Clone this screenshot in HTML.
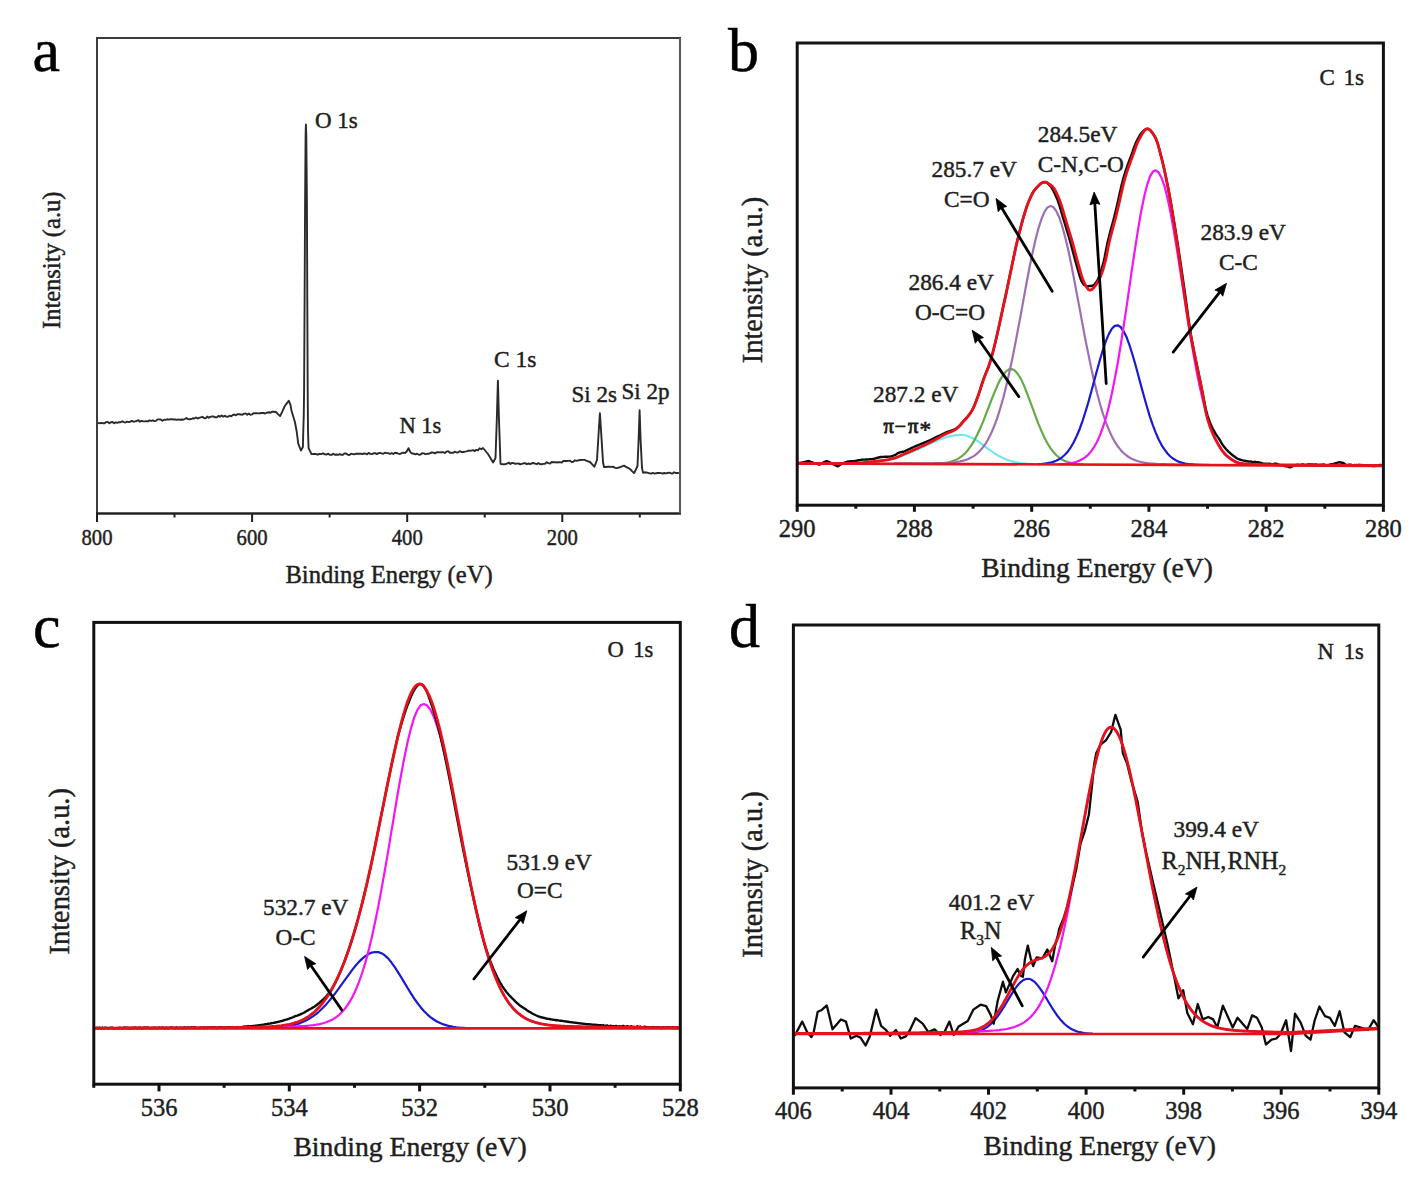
<!DOCTYPE html>
<html><head><meta charset="utf-8"><title>XPS spectra</title>
<style>html,body{margin:0;padding:0;background:#fff;overflow:hidden;}svg{display:block;}text{font-family:"Liberation Serif", serif;stroke:#1e1e1e;stroke-width:0.45px;}</style>
</head><body>
<svg width="1419" height="1179" viewBox="0 0 1419 1179">
<rect width="1419" height="1179" fill="#fff"/>
<line x1="97.0" y1="513.5" x2="97.0" y2="522.0" stroke="#1e1e1e" stroke-width="2"/>
<line x1="252.1" y1="513.5" x2="252.1" y2="522.0" stroke="#1e1e1e" stroke-width="2"/>
<line x1="407.2" y1="513.5" x2="407.2" y2="522.0" stroke="#1e1e1e" stroke-width="2"/>
<line x1="562.3" y1="513.5" x2="562.3" y2="522.0" stroke="#1e1e1e" stroke-width="2"/>
<line x1="174.5" y1="513.5" x2="174.5" y2="517.5" stroke="#1e1e1e" stroke-width="2"/>
<line x1="329.6" y1="513.5" x2="329.6" y2="517.5" stroke="#1e1e1e" stroke-width="2"/>
<line x1="484.7" y1="513.5" x2="484.7" y2="517.5" stroke="#1e1e1e" stroke-width="2"/>
<line x1="639.8" y1="513.5" x2="639.8" y2="517.5" stroke="#1e1e1e" stroke-width="2"/>
<text x="0" y="0" font-size="22.5" text-anchor="middle" fill="#1e1e1e" transform="translate(97.0,545) scale(0.92,1)">800</text>
<text x="0" y="0" font-size="22.5" text-anchor="middle" fill="#1e1e1e" transform="translate(252.1,545) scale(0.92,1)">600</text>
<text x="0" y="0" font-size="22.5" text-anchor="middle" fill="#1e1e1e" transform="translate(407.2,545) scale(0.92,1)">400</text>
<text x="0" y="0" font-size="22.5" text-anchor="middle" fill="#1e1e1e" transform="translate(562.3,545) scale(0.92,1)">200</text>
<text x="389" y="583" font-size="24.6" text-anchor="middle" fill="#1e1e1e" >Binding Energy (eV)</text>
<text x="0" y="0" font-size="24.5" text-anchor="middle" fill="#1e1e1e" transform="translate(60.3,260.3) rotate(-90)">Intensity (a.u)</text>
<text x="32.5" y="70.5" font-size="62" text-anchor="start" fill="#000" style="stroke:#000;stroke-width:0.5px">a</text>
<text x="315" y="127.5" font-size="23" text-anchor="start" fill="#1e1e1e" >O 1s</text>
<text x="494" y="367.3" font-size="23.5" text-anchor="start" fill="#1e1e1e" >C 1s</text>
<text x="399.5" y="433" font-size="22.5" text-anchor="start" fill="#1e1e1e" >N 1s</text>
<text x="571.5" y="401.5" font-size="23" text-anchor="start" fill="#1e1e1e" >Si 2s</text>
<text x="621.5" y="399.1" font-size="23" text-anchor="start" fill="#1e1e1e" >Si 2p</text>
<path d="M98.0,422.8 L99.6,423.3 L101.2,422.9 L102.8,423.2 L104.5,423.2 L106.1,422.1 L107.7,421.9 L109.3,423.3 L110.9,422.2 L112.5,422.0 L114.2,423.3 L115.8,422.3 L117.4,422.8 L119.0,422.1 L120.6,422.3 L122.2,421.3 L123.8,422.1 L125.5,422.5 L127.1,421.7 L128.7,422.1 L130.3,421.8 L131.9,420.7 L133.5,421.8 L135.2,421.4 L136.8,420.8 L138.4,420.2 L140.0,421.7 L141.6,420.9 L143.2,421.2 L144.8,421.4 L146.4,421.1 L148.0,421.4 L149.6,420.3 L151.2,421.0 L152.8,420.3 L154.4,421.1 L156.0,420.9 L157.6,419.4 L159.2,419.4 L160.8,419.5 L162.4,420.7 L164.0,419.7 L165.6,419.9 L167.2,419.3 L168.8,419.6 L170.4,419.3 L172.0,419.1 L173.6,419.5 L175.2,419.4 L176.8,419.9 L178.4,419.4 L180.0,419.8 L181.6,419.5 L183.2,419.7 L184.8,419.0 L186.4,418.0 L188.0,419.1 L189.6,419.2 L191.2,419.0 L192.8,418.3 L194.4,418.5 L196.0,417.5 L197.6,418.5 L199.2,417.9 L200.8,417.3 L202.4,416.8 L204.0,418.1 L205.6,418.3 L207.2,416.6 L208.8,417.7 L210.4,416.9 L212.0,416.4 L213.6,416.5 L215.2,417.3 L216.8,417.4 L218.4,415.8 L220.0,416.7 L221.6,415.5 L223.2,416.6 L224.8,415.8 L226.4,416.6 L228.0,416.7 L229.6,415.7 L231.2,416.4 L232.8,415.0 L234.4,414.5 L236.0,415.3 L237.6,414.1 L239.2,414.3 L240.8,414.5 L242.4,414.7 L244.0,413.8 L245.6,413.4 L247.2,414.8 L248.8,413.6 L250.4,414.7 L252.0,414.4 L253.6,413.3 L255.2,413.3 L256.8,413.3 L258.4,413.4 L260.0,413.2 L261.8,413.0 L263.5,413.0 L265.3,413.5 L267.1,412.6 L268.8,412.3 L270.6,412.7 L272.4,411.7 L274.1,411.8 L275.9,412.0 L278.0,414.1 L280.1,416.1 L282.5,411.1 L284.8,406.0 L286.8,403.4 L288.7,400.7 L290.5,404.8 L291.4,410.2 L293.1,416.1 L294.9,422.0 L296.7,431.5 L298.2,443.4 L300.9,450.5 L302.9,447.0 L303.2,434.5 L303.8,413.7 L304.1,390.0 L304.6,300.0 L305.1,200.0 L305.6,135.0 L305.9,124.5 L306.3,135.0 L306.9,200.0 L307.3,300.0 L307.7,390.0 L308.0,431.5 L308.6,448.2 L311.5,454.1 L313.5,454.0 L315.5,453.9 L317.5,454.7 L319.3,454.0 L321.1,454.1 L322.9,453.3 L324.6,454.2 L326.4,454.6 L328.2,453.7 L330.0,454.9 L331.6,454.9 L333.2,453.8 L334.8,454.8 L336.5,454.5 L338.1,454.8 L339.7,454.2 L341.3,454.8 L342.9,454.8 L344.5,453.5 L346.1,453.5 L347.7,454.6 L349.4,455.1 L351.0,453.7 L352.6,454.1 L354.2,454.3 L355.8,453.8 L357.4,453.8 L359.0,453.7 L360.6,453.7 L362.3,454.1 L363.9,453.5 L365.5,453.6 L367.1,454.3 L368.7,452.9 L370.3,453.9 L371.9,454.1 L373.5,453.3 L375.2,453.1 L376.8,454.1 L378.4,453.1 L380.0,452.9 L381.7,453.4 L383.3,453.8 L385.0,452.7 L386.7,453.1 L388.3,453.1 L390.0,454.0 L391.7,453.2 L393.3,454.0 L395.0,452.7 L396.7,453.0 L398.3,453.6 L400.0,454.0 L401.7,453.2 L403.3,452.7 L405.0,453.2 L407.0,451.0 L408.5,448.2 L410.0,451.5 L411.5,453.3 L414.0,453.8 L415.6,454.4 L417.2,453.7 L418.9,454.7 L420.5,454.6 L422.1,453.3 L423.8,453.4 L425.4,454.2 L427.0,453.8 L428.6,453.9 L430.2,453.0 L431.9,452.5 L433.5,452.6 L435.1,453.4 L436.8,452.3 L438.4,452.3 L440.0,452.4 L441.6,452.3 L443.3,452.2 L444.9,453.0 L446.6,451.6 L448.2,451.2 L449.9,452.8 L451.5,452.7 L453.2,452.8 L454.8,451.7 L456.5,452.5 L458.1,452.4 L459.8,451.1 L461.4,452.0 L463.1,452.0 L464.7,451.7 L466.4,451.3 L468.0,450.8 L469.7,450.8 L471.3,450.6 L473.0,450.2 L474.6,451.1 L476.3,449.9 L478.0,450.3 L479.6,448.3 L481.3,449.3 L483.0,448.0 L484.7,450.0 L486.3,452.0 L488.0,454.0 L489.7,456.8 L491.4,459.7 L493.1,462.5 L495.5,458.0 L496.8,420.0 L497.9,380.6 L499.0,420.0 L500.5,463.8 L502.1,464.3 L503.8,464.2 L505.4,464.2 L507.1,463.7 L508.7,462.6 L510.4,464.0 L512.0,462.9 L513.7,463.2 L515.3,463.8 L517.0,463.6 L518.6,463.4 L520.2,464.3 L521.9,463.8 L523.5,463.3 L525.2,463.1 L526.8,464.2 L528.5,463.5 L530.1,464.1 L531.8,463.3 L533.4,463.0 L535.1,463.6 L536.7,464.2 L538.4,463.0 L540.0,464.1 L541.7,464.2 L543.3,463.9 L545.0,463.8 L546.7,462.2 L548.3,463.2 L550.0,463.6 L551.7,462.0 L553.3,462.3 L555.0,462.1 L556.7,462.5 L558.3,462.2 L560.0,462.2 L561.7,462.6 L563.3,461.0 L565.0,461.0 L566.7,461.0 L568.3,460.9 L570.0,460.6 L571.7,462.1 L573.3,461.8 L575.0,460.3 L576.9,460.8 L578.8,460.2 L580.6,460.0 L582.5,459.9 L584.4,459.9 L586.3,460.6 L588.1,461.3 L590.0,462.0 L592.2,464.4 L594.4,466.7 L597.0,460.0 L598.8,430.0 L599.9,413.3 L601.0,430.0 L603.0,462.0 L604.0,467.0 L605.8,467.0 L607.5,466.7 L609.3,466.6 L611.1,466.9 L612.9,466.7 L614.7,467.6 L616.4,468.1 L618.2,467.8 L620.1,467.1 L622.1,466.4 L624.0,465.7 L626.0,466.8 L628.0,467.9 L630.0,469.0 L632.0,471.1 L634.1,473.1 L635.8,469.6 L637.5,466.0 L638.6,440.0 L639.6,410.2 L640.6,440.0 L642.0,468.0 L643.1,472.9 L644.7,472.3 L646.4,472.5 L648.0,472.9 L649.6,473.3 L651.3,473.6 L652.9,472.9 L654.5,473.6 L656.2,473.3 L657.8,473.0 L659.4,472.9 L661.0,473.1 L662.7,473.5 L664.3,473.0 L665.9,473.4 L667.6,473.0 L669.2,472.6 L670.8,473.2 L672.5,473.5 L674.1,472.3 L675.7,473.0 L677.4,473.0 L679.0,473.1" fill="none" stroke="#2a2a2a" stroke-width="1.9" stroke-linejoin="round" stroke-linecap="round" />
<rect x="97" y="38" width="583.0" height="475.5" fill="none" stroke="#3c3c3c" stroke-width="2"/>
<line x1="96.0" y1="513.5" x2="681.0" y2="513.5" stroke="#1e1e1e" stroke-width="2"/>
<line x1="680" y1="38" x2="680" y2="513.5" stroke="#5a5a5a" stroke-width="2"/>
<line x1="797.2" y1="505.2" x2="797.2" y2="511.8" stroke="#111" stroke-width="3"/>
<line x1="914.4" y1="505.2" x2="914.4" y2="511.8" stroke="#111" stroke-width="3"/>
<line x1="1031.7" y1="505.2" x2="1031.7" y2="511.8" stroke="#111" stroke-width="3"/>
<line x1="1148.9" y1="505.2" x2="1148.9" y2="511.8" stroke="#111" stroke-width="3"/>
<line x1="1266.2" y1="505.2" x2="1266.2" y2="511.8" stroke="#111" stroke-width="3"/>
<line x1="1383.4" y1="505.2" x2="1383.4" y2="511.8" stroke="#111" stroke-width="3"/>
<line x1="855.8" y1="505.2" x2="855.8" y2="508.7" stroke="#111" stroke-width="3"/>
<line x1="973.1" y1="505.2" x2="973.1" y2="508.7" stroke="#111" stroke-width="3"/>
<line x1="1090.3" y1="505.2" x2="1090.3" y2="508.7" stroke="#111" stroke-width="3"/>
<line x1="1207.5" y1="505.2" x2="1207.5" y2="508.7" stroke="#111" stroke-width="3"/>
<line x1="1324.8" y1="505.2" x2="1324.8" y2="508.7" stroke="#111" stroke-width="3"/>
<text x="797.2" y="536.8" font-size="24.5" text-anchor="middle" fill="#1e1e1e" >290</text>
<text x="914.4" y="536.8" font-size="24.5" text-anchor="middle" fill="#1e1e1e" >288</text>
<text x="1031.7" y="536.8" font-size="24.5" text-anchor="middle" fill="#1e1e1e" >286</text>
<text x="1148.9" y="536.8" font-size="24.5" text-anchor="middle" fill="#1e1e1e" >284</text>
<text x="1266.2" y="536.8" font-size="24.5" text-anchor="middle" fill="#1e1e1e" >282</text>
<text x="1383.4" y="536.8" font-size="24.5" text-anchor="middle" fill="#1e1e1e" >280</text>
<text x="1097" y="577.3" font-size="27.5" text-anchor="middle" fill="#1e1e1e" >Binding Energy (eV)</text>
<text x="0" y="0" font-size="28.4" text-anchor="middle" fill="#1e1e1e" transform="translate(762.3,280) rotate(-90)">Intensity (a.u.)</text>
<text x="728" y="70.7" font-size="62" text-anchor="start" fill="#000" style="stroke:#000;stroke-width:0.5px">b</text>
<path d="M851.0,463.2 L853.9,463.2 L856.8,463.1 L859.8,463.0 L862.7,462.8 L865.6,462.6 L868.5,462.4 L871.5,462.2 L874.4,461.9 L877.3,461.5 L880.3,461.1 L883.2,460.7 L886.1,460.1 L889.1,459.5 L892.0,458.9 L894.9,458.1 L897.9,457.3 L900.8,456.3 L903.7,455.3 L906.6,454.2 L909.6,453.1 L912.5,451.8 L915.4,450.5 L918.4,449.2 L921.3,447.8 L924.2,446.4 L927.2,445.1 L930.1,443.7 L933.0,442.3 L936.0,441.0 L938.9,439.8 L941.8,438.7 L944.8,437.7 L947.7,436.8 L950.6,436.1 L953.5,435.6 L956.5,435.2 L959.4,435.0 L962.3,435.0 L965.3,435.3 L968.2,436.2 L971.1,437.4 L974.1,438.9 L977.0,440.7 L979.9,442.7 L982.9,444.9 L985.8,447.1 L988.7,449.3 L991.6,451.4 L994.6,453.4 L997.5,455.2 L1000.4,456.8 L1003.4,458.2 L1006.3,459.5 L1009.2,460.5 L1012.2,461.4 L1015.1,462.1 L1018.0,462.7 L1021.0,463.1 L1023.9,463.4 L1026.8,463.7 L1029.7,463.9 L1032.7,464.1" fill="none" stroke="#72e8ee" stroke-width="2.2" stroke-linejoin="round" stroke-linecap="round" />
<path d="M936.0,463.6 L938.9,463.5 L941.8,463.3 L944.8,462.9 L947.7,462.5 L950.6,461.8 L953.5,460.9 L956.5,459.6 L959.4,457.9 L962.3,455.8 L965.3,453.1 L968.2,449.7 L971.1,445.6 L974.1,440.8 L977.0,435.3 L979.9,429.0 L982.9,422.1 L985.8,414.7 L988.7,407.1 L991.6,399.5 L994.6,392.1 L997.5,385.2 L1000.4,379.3 L1003.4,374.5 L1006.3,371.1 L1009.2,369.3 L1012.2,369.1 L1015.1,370.8 L1018.0,374.2 L1021.0,379.1 L1023.9,385.4 L1026.8,392.6 L1029.7,400.4 L1032.7,408.4 L1035.6,416.4 L1038.5,424.1 L1041.5,431.1 L1044.4,437.5 L1047.3,443.1 L1050.3,447.8 L1053.2,451.8 L1056.1,455.0 L1059.1,457.5 L1062.0,459.5 L1064.9,461.0 L1067.9,462.1 L1070.8,462.9 L1073.7,463.4 L1076.6,463.8 L1079.6,464.1 L1082.5,464.3" fill="none" stroke="#66aa48" stroke-width="2.2" stroke-linejoin="round" stroke-linecap="round" />
<path d="M894.9,463.4 L897.9,463.4 L900.8,463.4 L903.7,463.4 L906.6,463.4 L909.6,463.4 L912.5,463.4 L915.4,463.4 L918.4,463.4 L921.3,463.4 L924.2,463.3 L927.2,463.3 L930.1,463.3 L933.0,463.3 L936.0,463.2 L938.9,463.2 L941.8,463.1 L944.8,463.0 L947.7,462.8 L950.6,462.6 L953.5,462.4 L956.5,462.0 L959.4,461.5 L962.3,460.9 L965.3,460.1 L968.2,459.0 L971.1,457.6 L974.1,455.9 L977.0,453.6 L979.9,450.9 L982.9,447.4 L985.8,443.3 L988.7,438.3 L991.6,432.3 L994.6,425.3 L997.5,417.2 L1000.4,407.9 L1003.4,397.5 L1006.3,385.8 L1009.2,373.1 L1012.2,359.3 L1015.1,344.6 L1018.0,329.2 L1021.0,313.4 L1023.9,297.5 L1026.8,281.7 L1029.7,266.5 L1032.7,252.3 L1035.6,239.3 L1038.5,228.1 L1041.5,218.9 L1044.4,212.0 L1047.3,207.6 L1050.3,206.0 L1053.2,207.0 L1056.1,210.7 L1059.1,216.9 L1062.0,225.5 L1064.9,236.1 L1067.9,248.5 L1070.8,262.3 L1073.7,277.1 L1076.6,292.6 L1079.6,308.4 L1082.5,324.1 L1085.4,339.6 L1088.4,354.4 L1091.3,368.4 L1094.2,381.5 L1097.2,393.5 L1100.1,404.3 L1103.0,414.0 L1106.0,422.5 L1108.9,429.9 L1111.8,436.3 L1114.7,441.7 L1117.7,446.2 L1120.6,449.9 L1123.5,453.0 L1126.5,455.5 L1129.4,457.5 L1132.3,459.1 L1135.3,460.3 L1138.2,461.3 L1141.1,462.0 L1144.1,462.6 L1147.0,463.1 L1149.9,463.4 L1152.9,463.6 L1155.8,463.8 L1158.7,464.0 L1161.6,464.1 L1164.6,464.2 L1167.5,464.3 L1170.4,464.4 L1173.4,464.4 L1176.3,464.5 L1179.2,464.5 L1182.2,464.5 L1185.1,464.6 L1188.0,464.6 L1191.0,464.6 L1193.9,464.7 L1196.8,464.7 L1199.7,464.7 L1202.7,464.8 L1205.6,464.8 L1208.5,464.8" fill="none" stroke="#9d6fb2" stroke-width="2.2" stroke-linejoin="round" stroke-linecap="round" />
<path d="M1038.5,464.1 L1041.5,463.9 L1044.4,463.6 L1047.3,463.2 L1050.3,462.7 L1053.2,461.9 L1056.1,460.8 L1059.1,459.3 L1062.0,457.3 L1064.9,454.7 L1067.9,451.4 L1070.8,447.3 L1073.7,442.3 L1076.6,436.2 L1079.6,429.2 L1082.5,421.1 L1085.4,412.0 L1088.4,402.1 L1091.3,391.5 L1094.2,380.7 L1097.2,369.8 L1100.1,359.2 L1103.0,349.5 L1106.0,340.9 L1108.9,333.9 L1111.8,328.8 L1114.7,325.9 L1117.7,325.3 L1120.6,327.0 L1123.5,331.0 L1126.5,337.0 L1129.4,344.8 L1132.3,354.0 L1135.3,364.2 L1138.2,375.0 L1141.1,385.9 L1144.1,396.7 L1147.0,407.0 L1149.9,416.6 L1152.9,425.3 L1155.8,432.9 L1158.7,439.5 L1161.6,445.1 L1164.6,449.7 L1167.5,453.5 L1170.4,456.5 L1173.4,458.8 L1176.3,460.5 L1179.2,461.9 L1182.2,462.8 L1185.1,463.6 L1188.0,464.1 L1191.0,464.4 L1193.9,464.7 L1196.8,464.8" fill="none" stroke="#1a1ad2" stroke-width="2.2" stroke-linejoin="round" stroke-linecap="round" />
<path d="M1059.1,464.2 L1062.0,464.1 L1064.9,463.9 L1067.9,463.6 L1070.8,463.2 L1073.7,462.6 L1076.6,461.7 L1079.6,460.6 L1082.5,459.1 L1085.4,457.1 L1088.4,454.5 L1091.3,451.1 L1094.2,446.8 L1097.2,441.5 L1100.1,434.9 L1103.0,427.0 L1106.0,417.5 L1108.9,406.5 L1111.8,393.7 L1114.7,379.3 L1117.7,363.3 L1120.6,345.7 L1123.5,327.0 L1126.5,307.3 L1129.4,287.1 L1132.3,266.9 L1135.3,247.2 L1138.2,228.6 L1141.1,211.7 L1144.1,197.1 L1147.0,185.3 L1149.9,176.6 L1152.9,171.6 L1155.8,170.3 L1158.7,172.5 L1161.6,178.0 L1164.6,186.6 L1167.5,198.1 L1170.4,212.0 L1173.4,228.0 L1176.3,245.5 L1179.2,264.0 L1182.2,283.1 L1185.1,302.2 L1188.0,321.1 L1191.0,339.2 L1193.9,356.3 L1196.8,372.1 L1199.7,386.6 L1202.7,399.5 L1205.6,411.0 L1208.5,421.0 L1211.5,429.5 L1214.4,436.8 L1217.3,442.8 L1220.3,447.8 L1223.2,451.8 L1226.1,455.0 L1229.1,457.5 L1232.0,459.5 L1234.9,461.1 L1237.9,462.2 L1240.8,463.1 L1243.7,463.7 L1246.6,464.2 L1249.6,464.6 L1252.5,464.8 L1255.4,465.0 L1258.4,465.1" fill="none" stroke="#f414f4" stroke-width="2.2" stroke-linejoin="round" stroke-linecap="round" />
<path d="M798.7,463.0 L799.7,462.9 L800.7,462.8 L801.7,462.7 L802.7,462.5 L803.7,462.3 L804.7,462.0 L805.7,461.8 L806.7,461.5 L807.7,461.2 L808.7,461.0 L809.7,461.4 L810.7,461.8 L811.7,462.1 L812.7,462.5 L813.7,462.9 L814.7,463.2 L815.7,463.5 L816.7,463.8 L817.7,464.1 L818.7,464.5 L819.7,464.6 L820.7,463.9 L821.7,463.3 L822.7,462.7 L823.7,462.2 L824.7,461.8 L825.7,461.4 L826.7,461.0 L827.7,461.4 L828.7,461.9 L829.7,462.4 L830.7,462.9 L831.7,463.4 L832.7,463.9 L833.7,464.4 L834.7,465.0 L835.7,465.5 L836.7,466.0 L837.7,466.4 L838.7,465.8 L839.7,465.1 L840.7,464.4 L841.7,463.7 L842.7,463.3 L843.7,462.9 L844.7,462.6 L845.7,462.2 L846.7,461.9 L847.7,461.5 L848.7,461.4 L849.7,461.4 L850.7,461.3 L851.7,461.2 L852.7,461.2 L853.7,461.1 L854.7,461.0 L855.7,460.9 L856.7,460.7 L857.7,460.5 L858.7,460.3 L859.7,460.1 L860.7,459.9 L861.7,459.7 L862.7,459.6 L863.7,459.6 L864.7,459.6 L865.7,459.5 L866.7,459.5 L867.7,459.5 L868.7,459.4 L869.7,459.3 L870.7,459.2 L871.7,459.1 L872.7,459.0 L873.7,458.9 L874.7,458.6 L875.7,458.3 L876.7,458.0 L877.7,457.8 L878.7,457.5 L879.7,457.2 L880.7,457.0 L881.7,457.0 L882.7,456.9 L883.7,456.9 L884.7,456.8 L885.7,456.8 L886.7,456.8 L887.7,456.7 L888.7,456.6 L889.7,456.6 L890.7,456.5 L891.7,456.3 L892.7,455.9 L893.7,455.5 L894.7,455.1 L895.7,454.6 L896.7,454.0 L897.7,453.3 L898.7,452.8 L899.7,452.5 L900.7,452.2 L901.7,452.0 L902.7,451.7 L903.7,451.7 L904.7,451.2 L905.7,450.7 L906.7,450.2 L907.7,449.7 L908.7,449.3 L909.7,448.8 L910.7,448.4 L911.7,447.9 L912.7,447.4 L913.7,447.0 L914.7,446.5 L915.7,446.1 L916.7,445.7 L917.7,445.3 L918.7,444.9 L919.7,444.5 L920.7,444.1 L921.7,443.7 L922.7,443.3 L923.7,442.9 L924.7,442.4 L925.7,442.0 L926.7,441.6 L927.7,441.2 L928.7,440.7 L929.7,440.3 L930.7,439.8 L931.7,439.4 L932.7,438.9 L933.7,438.4 L934.7,437.9 L935.7,437.4 L936.7,436.9 L937.7,436.4 L938.7,435.9 L939.7,435.5 L940.7,435.0 L941.7,434.5 L942.7,434.0 L943.7,433.5 L944.7,433.1 L945.7,432.6 L946.7,432.2 L947.7,431.8 L948.7,431.4 L949.7,431.1 L950.7,430.8 L951.7,430.5 L952.7,430.1 L953.7,429.7 L954.7,429.3 L955.7,428.7 L956.7,428.0 L957.7,427.2 L958.7,426.3 L959.7,425.3 L960.7,424.2 L961.7,423.1 L962.7,422.0 L963.7,420.9 L964.7,419.8 L965.7,418.7 L966.7,417.6 L967.7,416.4 L968.7,415.2 L969.7,413.9 L970.7,412.5 L971.7,410.9 L972.7,409.2 L973.7,407.1 L974.7,404.7 L975.7,402.2 L976.7,399.6 L977.7,396.9 L978.7,394.1 L979.7,391.1 L980.7,387.9 L981.7,384.8 L982.7,381.7 L983.7,378.9 L984.7,376.3 L985.7,373.8 L986.7,371.3 L987.7,368.8 L988.7,366.2 L989.7,363.2 L990.7,360.0 L991.7,356.6 L992.7,352.9 L993.7,349.0 L994.7,345.0 L995.7,340.8 L996.7,336.5 L997.7,332.0 L998.7,327.5 L999.7,322.9 L1000.7,318.3 L1001.7,313.7 L1002.7,309.1 L1003.7,304.5 L1004.7,299.9 L1005.7,295.4 L1006.7,290.7 L1007.7,285.9 L1008.7,281.1 L1009.7,276.3 L1010.7,271.5 L1011.7,266.7 L1012.7,262.0 L1013.7,257.3 L1014.7,252.5 L1015.7,247.8 L1016.7,243.4 L1017.7,239.3 L1018.7,235.2 L1019.7,231.3 L1020.7,227.4 L1021.7,223.6 L1022.7,219.9 L1023.7,216.3 L1024.7,213.0 L1025.7,209.8 L1026.7,206.8 L1027.7,204.1 L1028.7,201.6 L1029.7,199.2 L1030.7,196.9 L1031.7,194.8 L1032.7,192.9 L1033.7,191.2 L1034.7,189.9 L1035.7,188.7 L1036.7,187.6 L1037.7,186.5 L1038.7,185.5 L1039.7,184.5 L1040.7,183.7 L1041.7,183.0 L1042.7,182.5 L1043.7,182.2 L1044.7,182.1 L1045.7,182.3 L1046.7,182.7 L1047.7,183.4 L1048.7,184.3 L1049.7,185.3 L1050.7,186.4 L1051.7,187.9 L1052.7,189.5 L1053.7,191.4 L1054.7,193.5 L1055.7,195.7 L1056.7,198.0 L1057.7,200.4 L1058.7,203.3 L1059.7,206.4 L1060.7,209.7 L1061.7,213.2 L1062.7,216.6 L1063.7,219.9 L1064.7,223.2 L1065.7,226.5 L1066.7,229.8 L1067.7,233.1 L1068.7,236.5 L1069.7,240.0 L1070.7,243.5 L1071.7,247.1 L1072.7,250.9 L1073.7,254.7 L1074.7,258.4 L1075.7,262.1 L1076.7,265.7 L1077.7,269.2 L1078.7,272.8 L1079.7,276.2 L1080.7,279.1 L1081.7,281.4 L1082.7,283.1 L1083.7,284.5 L1084.7,285.3 L1085.7,285.8 L1086.7,286.2 L1087.7,286.3 L1088.7,286.2 L1089.7,285.9 L1090.7,286.0 L1091.7,286.0 L1092.7,285.6 L1093.7,285.0 L1094.7,284.0 L1095.7,282.9 L1096.7,281.6 L1097.7,279.9 L1098.7,277.6 L1099.7,274.7 L1100.7,271.7 L1101.7,268.6 L1102.7,265.1 L1103.7,261.5 L1104.7,257.0 L1105.7,251.7 L1106.7,246.4 L1107.7,241.8 L1108.7,237.7 L1109.7,233.8 L1110.7,230.1 L1111.7,226.4 L1112.7,222.7 L1113.7,219.0 L1114.7,215.1 L1115.7,211.0 L1116.7,206.7 L1117.7,202.3 L1118.7,197.8 L1119.7,193.3 L1120.7,188.9 L1121.7,184.7 L1122.7,180.8 L1123.7,177.1 L1124.7,173.8 L1125.7,170.7 L1126.7,167.8 L1127.7,165.0 L1128.7,162.2 L1129.7,159.5 L1130.7,156.9 L1131.7,154.2 L1132.7,151.3 L1133.7,148.5 L1134.7,145.7 L1135.7,143.1 L1136.7,141.0 L1137.7,139.1 L1138.7,137.3 L1139.7,135.5 L1140.7,134.0 L1141.7,132.8 L1142.7,131.6 L1143.7,130.7 L1144.7,129.8 L1145.7,129.3 L1146.7,128.9 L1147.7,128.8 L1148.7,129.1 L1149.7,129.8 L1150.7,130.7 L1151.7,131.9 L1152.7,133.3 L1153.7,134.8 L1154.7,136.4 L1155.7,138.2 L1156.7,140.7 L1157.7,143.7 L1158.7,147.1 L1159.7,150.9 L1160.7,154.8 L1161.7,158.7 L1162.7,162.7 L1163.7,167.0 L1164.7,171.5 L1165.7,176.1 L1166.7,180.9 L1167.7,185.8 L1168.7,190.8 L1169.7,196.0 L1170.7,201.5 L1171.7,207.2 L1172.7,213.1 L1173.7,219.1 L1174.7,225.2 L1175.7,231.4 L1176.7,237.7 L1177.7,243.9 L1178.7,250.4 L1179.7,257.0 L1180.7,263.7 L1181.7,270.6 L1182.7,277.5 L1183.7,284.3 L1184.7,291.1 L1185.7,298.3 L1186.7,305.7 L1187.7,313.2 L1188.7,320.4 L1189.7,327.2 L1190.7,333.4 L1191.7,339.1 L1192.7,344.5 L1193.7,349.7 L1194.7,354.9 L1195.7,359.7 L1196.7,364.4 L1197.7,369.1 L1198.7,373.8 L1199.7,378.5 L1200.7,383.2 L1201.7,387.9 L1202.7,393.0 L1203.7,398.2 L1204.7,403.5 L1205.7,408.4 L1206.7,412.7 L1207.7,416.1 L1208.7,419.0 L1209.7,421.7 L1210.7,424.2 L1211.7,426.5 L1212.7,428.5 L1213.7,430.4 L1214.7,432.2 L1215.7,433.9 L1216.7,435.4 L1217.7,436.9 L1218.7,438.3 L1219.7,439.9 L1220.7,441.7 L1221.7,443.3 L1222.7,444.9 L1223.7,446.3 L1224.7,447.6 L1225.7,448.8 L1226.7,449.9 L1227.7,450.8 L1228.7,451.8 L1229.7,452.7 L1230.7,453.6 L1231.7,454.5 L1232.7,455.3 L1233.7,456.1 L1234.7,456.8 L1235.7,457.5 L1236.7,458.2 L1237.7,458.7 L1238.7,459.2 L1239.7,459.5 L1240.7,459.8 L1241.7,460.1 L1242.7,460.4 L1243.7,460.6 L1244.7,460.8 L1245.7,461.0 L1246.7,461.2 L1247.7,461.3 L1248.7,461.5 L1249.7,461.6 L1250.7,461.4 L1251.7,462.0 L1252.7,462.0 L1253.7,462.1 L1254.7,461.8 L1255.7,462.0 L1256.7,462.1 L1257.7,462.2 L1258.7,462.5 L1259.7,462.5 L1260.7,463.0 L1261.7,463.0 L1262.7,463.6 L1263.7,463.6 L1264.7,463.9 L1265.7,463.7 L1266.7,463.9 L1267.7,463.7 L1268.7,463.9 L1269.7,463.6 L1270.7,464.0 L1271.7,464.2 L1272.7,464.2 L1273.7,464.0 L1274.7,463.7 L1275.7,463.8 L1276.7,463.8 L1277.7,464.2 L1278.7,464.7 L1279.7,465.0 L1280.7,465.1 L1281.7,465.0 L1282.7,465.1 L1283.7,465.6 L1284.7,466.1 L1285.7,466.3 L1286.7,466.3 L1287.7,466.5 L1288.7,467.0 L1289.7,467.2 L1290.7,467.0 L1291.7,466.8 L1292.7,466.1 L1293.7,465.6 L1294.7,465.2 L1295.7,465.2 L1296.7,465.0 L1297.7,464.8 L1298.7,465.0 L1299.7,465.3 L1300.7,465.1 L1301.7,464.6 L1302.7,464.3 L1303.7,464.7 L1304.7,464.9 L1305.7,465.4 L1306.7,464.9 L1307.7,464.8 L1308.7,464.3 L1309.7,464.5 L1310.7,464.4 L1311.7,464.5 L1312.7,464.5 L1313.7,464.7 L1314.7,464.6 L1315.7,464.4 L1316.7,464.8 L1317.7,464.9 L1318.7,465.1 L1319.7,464.8 L1320.7,465.0 L1321.7,464.8 L1322.7,464.7 L1323.7,464.5 L1324.7,464.8 L1325.7,465.1 L1326.7,465.4 L1327.7,465.6 L1328.7,465.1 L1329.7,464.7 L1330.7,464.4 L1331.7,464.3 L1332.7,464.4 L1333.7,463.9 L1334.7,463.5 L1335.7,463.2 L1336.7,463.1 L1337.7,462.6 L1338.7,462.3 L1339.7,462.3 L1340.7,462.5 L1341.7,462.7 L1342.7,462.8 L1343.7,463.2 L1344.7,464.0 L1345.7,464.6 L1346.7,465.1 L1347.7,464.9 L1348.7,464.6 L1349.7,464.6 L1350.7,464.6 L1351.7,464.9 L1352.7,465.1 L1353.7,465.2 L1354.7,465.0 L1355.7,465.1 L1356.7,465.0 L1357.7,465.1 L1358.7,464.8 L1359.7,465.0 L1360.7,465.0 L1361.7,465.1 L1362.7,465.0 L1363.7,465.4 L1364.7,465.5 L1365.7,465.9 L1366.7,465.8 L1367.7,465.9 L1368.7,465.8 L1369.7,465.7 L1370.7,465.7 L1371.7,465.7 L1372.7,466.1 L1373.7,466.0 L1374.7,466.1 L1375.7,465.7 L1376.7,465.7 L1377.7,465.5 L1378.7,465.5 L1379.7,465.0 L1380.7,464.9 L1381.7,465.1" fill="none" stroke="#0d0d0d" stroke-width="2.4" stroke-linejoin="round" stroke-linecap="round" />
<path d="M798.7,463.4 L799.7,463.4 L800.7,463.4 L801.7,463.4 L802.7,463.5 L803.7,463.5 L804.7,463.5 L805.7,463.5 L806.7,463.5 L807.7,463.5 L808.7,463.5 L809.7,463.5 L810.7,463.5 L811.7,463.6 L812.7,463.6 L813.7,463.6 L814.7,463.6 L815.7,463.6 L816.7,463.6 L817.7,463.6 L818.7,463.6 L819.7,463.6 L820.7,463.6 L821.7,463.6 L822.7,463.6 L823.7,463.6 L824.7,463.6 L825.7,463.6 L826.7,463.6 L827.7,463.6 L828.7,463.6 L829.7,463.6 L830.7,463.6 L831.7,463.6 L832.7,463.6 L833.7,463.6 L834.7,463.6 L835.7,463.6 L836.7,463.6 L837.7,463.6 L838.7,463.5 L839.7,463.5 L840.7,463.5 L841.7,463.5 L842.7,463.5 L843.7,463.5 L844.7,463.4 L845.7,463.4 L846.7,463.4 L847.7,463.4 L848.7,463.4 L849.7,463.3 L850.7,463.3 L851.7,463.3 L852.7,463.3 L853.7,463.2 L854.7,463.2 L855.7,463.2 L856.7,463.1 L857.7,463.1 L858.7,463.0 L859.7,463.0 L860.7,462.9 L861.7,462.8 L862.7,462.7 L863.7,462.6 L864.7,462.5 L865.7,462.4 L866.7,462.3 L867.7,462.2 L868.7,462.1 L869.7,462.0 L870.7,461.8 L871.7,461.7 L872.7,461.6 L873.7,461.5 L874.7,461.4 L875.7,461.3 L876.7,461.2 L877.7,461.1 L878.7,461.0 L879.7,460.9 L880.7,460.7 L881.7,460.6 L882.7,460.5 L883.7,460.4 L884.7,460.2 L885.7,460.1 L886.7,459.9 L887.7,459.8 L888.7,459.6 L889.7,459.4 L890.7,459.2 L891.7,459.0 L892.7,458.7 L893.7,458.4 L894.7,458.1 L895.7,457.7 L896.7,457.4 L897.7,457.0 L898.7,456.5 L899.7,456.1 L900.7,455.6 L901.7,455.2 L902.7,454.7 L903.7,454.3 L904.7,453.8 L905.7,453.4 L906.7,452.9 L907.7,452.5 L908.7,452.1 L909.7,451.7 L910.7,451.2 L911.7,450.8 L912.7,450.4 L913.7,449.9 L914.7,449.5 L915.7,449.1 L916.7,448.6 L917.7,448.2 L918.7,447.7 L919.7,447.3 L920.7,446.8 L921.7,446.3 L922.7,445.9 L923.7,445.4 L924.7,444.9 L925.7,444.5 L926.7,444.0 L927.7,443.5 L928.7,443.0 L929.7,442.5 L930.7,442.1 L931.7,441.5 L932.7,441.0 L933.7,440.5 L934.7,439.9 L935.7,439.4 L936.7,438.8 L937.7,438.3 L938.7,437.7 L939.7,437.2 L940.7,436.6 L941.7,436.1 L942.7,435.5 L943.7,435.0 L944.7,434.5 L945.7,434.0 L946.7,433.5 L947.7,433.0 L948.7,432.6 L949.7,432.2 L950.7,431.9 L951.7,431.5 L952.7,431.1 L953.7,430.6 L954.7,430.1 L955.7,429.4 L956.7,428.7 L957.7,427.8 L958.7,426.8 L959.7,425.8 L960.7,424.7 L961.7,423.5 L962.7,422.4 L963.7,421.2 L964.7,420.1 L965.7,419.0 L966.7,417.8 L967.7,416.7 L968.7,415.4 L969.7,414.1 L970.7,412.6 L971.7,411.0 L972.7,409.2 L973.7,407.1 L974.7,404.8 L975.7,402.2 L976.7,399.6 L977.7,396.9 L978.7,394.1 L979.7,391.1 L980.7,387.9 L981.7,384.8 L982.7,381.7 L983.7,378.9 L984.7,376.3 L985.7,373.8 L986.7,371.3 L987.7,368.8 L988.7,366.2 L989.7,363.2 L990.7,360.0 L991.7,356.6 L992.7,352.9 L993.7,349.0 L994.7,345.0 L995.7,340.8 L996.7,336.5 L997.7,332.0 L998.7,327.5 L999.7,322.9 L1000.7,318.3 L1001.7,313.7 L1002.7,309.1 L1003.7,304.5 L1004.7,299.9 L1005.7,295.4 L1006.7,290.7 L1007.7,285.9 L1008.7,281.1 L1009.7,276.3 L1010.7,271.5 L1011.7,266.7 L1012.7,262.0 L1013.7,257.3 L1014.7,252.5 L1015.7,247.8 L1016.7,243.4 L1017.7,239.3 L1018.7,235.2 L1019.7,231.3 L1020.7,227.4 L1021.7,223.6 L1022.7,219.9 L1023.7,216.3 L1024.7,213.0 L1025.7,209.8 L1026.7,206.8 L1027.7,204.1 L1028.7,201.6 L1029.7,199.2 L1030.7,196.9 L1031.7,194.8 L1032.7,192.9 L1033.7,191.2 L1034.7,189.9 L1035.7,188.7 L1036.7,187.6 L1037.7,186.5 L1038.7,185.5 L1039.7,184.5 L1040.7,183.7 L1041.7,183.0 L1042.7,182.5 L1043.7,182.2 L1044.7,182.1 L1045.7,182.2 L1046.7,182.5 L1047.7,183.0 L1048.7,183.6 L1049.7,184.3 L1050.7,185.1 L1051.7,185.9 L1052.7,186.8 L1053.7,188.0 L1054.7,189.5 L1055.7,191.4 L1056.7,193.5 L1057.7,195.7 L1058.7,198.0 L1059.7,200.4 L1060.7,203.3 L1061.7,206.4 L1062.7,209.7 L1063.7,213.2 L1064.7,216.6 L1065.7,219.9 L1066.7,223.2 L1067.7,226.5 L1068.7,229.8 L1069.7,233.1 L1070.7,236.5 L1071.7,240.0 L1072.7,243.5 L1073.7,247.1 L1074.7,250.9 L1075.7,254.7 L1076.7,258.4 L1077.7,262.1 L1078.7,265.7 L1079.7,269.2 L1080.7,272.8 L1081.7,276.2 L1082.7,279.1 L1083.7,281.4 L1084.7,283.5 L1085.7,285.5 L1086.7,287.2 L1087.7,288.7 L1088.7,289.7 L1089.7,290.2 L1090.7,290.1 L1091.7,289.6 L1092.7,288.8 L1093.7,287.8 L1094.7,286.5 L1095.7,285.1 L1096.7,283.6 L1097.7,281.9 L1098.7,280.3 L1099.7,278.4 L1100.7,276.1 L1101.7,273.5 L1102.7,270.5 L1103.7,267.2 L1104.7,263.7 L1105.7,259.9 L1106.7,254.9 L1107.7,249.5 L1108.7,244.4 L1109.7,240.1 L1110.7,236.1 L1111.7,232.3 L1112.7,228.6 L1113.7,224.9 L1114.7,221.2 L1115.7,217.4 L1116.7,213.5 L1117.7,209.3 L1118.7,204.9 L1119.7,200.5 L1120.7,196.0 L1121.7,191.5 L1122.7,187.2 L1123.7,183.1 L1124.7,179.3 L1125.7,175.8 L1126.7,172.6 L1127.7,169.5 L1128.7,166.6 L1129.7,163.9 L1130.7,161.1 L1131.7,158.5 L1132.7,155.8 L1133.7,153.0 L1134.7,150.2 L1135.7,147.3 L1136.7,144.6 L1137.7,142.2 L1138.7,140.2 L1139.7,138.4 L1140.7,136.5 L1141.7,134.8 L1142.7,133.1 L1143.7,131.6 L1144.7,130.4 L1145.7,129.5 L1146.7,128.9 L1147.7,128.8 L1148.7,129.1 L1149.7,129.8 L1150.7,130.7 L1151.7,131.9 L1152.7,133.3 L1153.7,134.8 L1154.7,136.4 L1155.7,138.2 L1156.7,140.7 L1157.7,143.7 L1158.7,147.1 L1159.7,150.9 L1160.7,154.8 L1161.7,158.7 L1162.7,162.7 L1163.7,167.0 L1164.7,171.5 L1165.7,176.3 L1166.7,181.2 L1167.7,186.3 L1168.7,191.6 L1169.7,197.1 L1170.7,202.9 L1171.7,208.8 L1172.7,215.0 L1173.7,221.3 L1174.7,227.7 L1175.7,234.2 L1176.7,240.7 L1177.7,247.3 L1178.7,254.1 L1179.7,261.1 L1180.7,268.2 L1181.7,275.4 L1182.7,282.5 L1183.7,289.6 L1184.7,296.6 L1185.7,303.4 L1186.7,310.3 L1187.7,317.1 L1188.7,323.6 L1189.7,329.7 L1190.7,335.2 L1191.7,340.4 L1192.7,345.3 L1193.7,350.2 L1194.7,355.0 L1195.7,359.9 L1196.7,364.9 L1197.7,369.8 L1198.7,374.7 L1199.7,379.7 L1200.7,384.6 L1201.7,389.6 L1202.7,394.9 L1203.7,400.4 L1204.7,405.9 L1205.7,411.1 L1206.7,415.7 L1207.7,419.5 L1208.7,422.7 L1209.7,425.7 L1210.7,428.5 L1211.7,431.1 L1212.7,433.5 L1213.7,435.7 L1214.7,437.8 L1215.7,439.8 L1216.7,441.6 L1217.7,443.4 L1218.7,445.2 L1219.7,446.9 L1220.7,448.4 L1221.7,450.0 L1222.7,451.4 L1223.7,452.7 L1224.7,453.9 L1225.7,454.9 L1226.7,455.8 L1227.7,456.6 L1228.7,457.4 L1229.7,458.2 L1230.7,458.9 L1231.7,459.7 L1232.7,460.3 L1233.7,460.9 L1234.7,461.5 L1235.7,462.0 L1236.7,462.5 L1237.7,462.8 L1238.7,463.1 L1239.7,463.3 L1240.7,463.5 L1241.7,463.6 L1242.7,463.7 L1243.7,463.8 L1244.7,463.9 L1245.7,463.9 L1246.7,464.0 L1247.7,464.1 L1248.7,464.2 L1249.7,464.2 L1250.7,464.3 L1251.7,464.3 L1252.7,464.4 L1253.7,464.4 L1254.7,464.5 L1255.7,464.5 L1256.7,464.5 L1257.7,464.6 L1258.7,464.6 L1259.7,464.6 L1260.7,464.6 L1261.7,464.6 L1262.7,464.6 L1263.7,464.6 L1264.7,464.7 L1265.7,464.7 L1266.7,464.7 L1267.7,464.7 L1268.7,464.7 L1269.7,464.7 L1270.7,464.7 L1271.7,464.7 L1272.7,464.7 L1273.7,464.7 L1274.7,464.8 L1275.7,464.8 L1276.7,464.8 L1277.7,464.8 L1278.7,464.8 L1279.7,464.8 L1280.7,464.8 L1281.7,464.8 L1282.7,464.8 L1283.7,464.8 L1284.7,464.8 L1285.7,464.8 L1286.7,464.8 L1287.7,464.8 L1288.7,464.8 L1289.7,464.8 L1290.7,464.8 L1291.7,464.8 L1292.7,464.9 L1293.7,464.9 L1294.7,464.9 L1295.7,464.9 L1296.7,464.9 L1297.7,464.9 L1298.7,464.9 L1299.7,464.9 L1300.7,464.9 L1301.7,464.9 L1302.7,464.9 L1303.7,464.9 L1304.7,464.9 L1305.7,464.9 L1306.7,465.0 L1307.7,465.0 L1308.7,465.0 L1309.7,465.0 L1310.7,465.0 L1311.7,465.0 L1312.7,465.0 L1313.7,465.0 L1314.7,465.0 L1315.7,465.0 L1316.7,465.0 L1317.7,465.0 L1318.7,465.1 L1319.7,465.1 L1320.7,465.1 L1321.7,465.1 L1322.7,465.1 L1323.7,465.1 L1324.7,465.1 L1325.7,465.1 L1326.7,465.1 L1327.7,465.1 L1328.7,465.1 L1329.7,465.1 L1330.7,465.1 L1331.7,465.2 L1332.7,465.2 L1333.7,465.2 L1334.7,465.2 L1335.7,465.2 L1336.7,465.2 L1337.7,465.2 L1338.7,465.2 L1339.7,465.2 L1340.7,465.2 L1341.7,465.2 L1342.7,465.3 L1343.7,465.3 L1344.7,465.3 L1345.7,465.3 L1346.7,465.3 L1347.7,465.3 L1348.7,465.3 L1349.7,465.3 L1350.7,465.3 L1351.7,465.3 L1352.7,465.3 L1353.7,465.3 L1354.7,465.4 L1355.7,465.4 L1356.7,465.4 L1357.7,465.4 L1358.7,465.4 L1359.7,465.4 L1360.7,465.4 L1361.7,465.4 L1362.7,465.4 L1363.7,465.4 L1364.7,465.4 L1365.7,465.5 L1366.7,465.5 L1367.7,465.5 L1368.7,465.5 L1369.7,465.5 L1370.7,465.5 L1371.7,465.5 L1372.7,465.5 L1373.7,465.5 L1374.7,465.5 L1375.7,465.5 L1376.7,465.6 L1377.7,465.6 L1378.7,465.6 L1379.7,465.6 L1380.7,465.6 L1381.7,465.6" fill="none" stroke="#e6121b" stroke-width="2.8" stroke-linejoin="round" stroke-linecap="round" />
<line x1="797.2" y1="463.3" x2="1383.4" y2="465.9" stroke="#e6121b" stroke-width="2.7"/>
<text x="1319.5" y="85.2" font-size="23" text-anchor="start" fill="#1e1e1e" word-spacing="2.8">C 1s</text>
<text x="873" y="402" font-size="23.3" text-anchor="start" fill="#1e1e1e" >287.2 eV</text>
<text x="883.5" y="433" font-size="20.5" text-anchor="start" fill="#1e1e1e" style="stroke-width:0.9px">π</text>
<text x="894.5" y="433" font-size="20.5" text-anchor="start" fill="#1e1e1e" style="stroke-width:0.6px">−</text>
<text x="908" y="433" font-size="20.5" text-anchor="start" fill="#1e1e1e" style="stroke-width:0.9px">π</text>
<text x="919.5" y="436.5" font-size="23" text-anchor="start" fill="#1e1e1e" style="stroke-width:0.7px">*</text>
<text x="908.5" y="289.8" font-size="23.3" text-anchor="start" fill="#1e1e1e" >286.4 eV</text>
<text x="915" y="319.5" font-size="23.3" text-anchor="start" fill="#1e1e1e" >O-C=O</text>
<text x="931.5" y="177.4" font-size="23.3" text-anchor="start" fill="#1e1e1e" >285.7 eV</text>
<text x="944" y="206.9" font-size="23.3" text-anchor="start" fill="#1e1e1e" >C=O</text>
<text x="1037.8" y="142.2" font-size="23.3" text-anchor="start" fill="#1e1e1e" >284.5eV</text>
<text x="1037.8" y="172" font-size="23.3" text-anchor="start" fill="#1e1e1e" >C-N,C-O</text>
<text x="1200.5" y="239.6" font-size="23.3" text-anchor="start" fill="#1e1e1e" >283.9 eV</text>
<text x="1219" y="269.6" font-size="23.3" text-anchor="start" fill="#1e1e1e" >C-C</text>
<line x1="1018.8" y1="396.6" x2="977.7" y2="338.0" stroke="#000" stroke-width="2.8" stroke-linecap="round"/>
<polygon points="972.2,330.2 983.5,337.6 978.5,339.2 975.3,343.3" fill="#000" stroke="#000" stroke-width="0.8" stroke-linejoin="round"/>
<line x1="1052.2" y1="291.2" x2="1000.9" y2="206.5" stroke="#000" stroke-width="2.8" stroke-linecap="round"/>
<polygon points="996.0,198.4 1006.8,206.5 1001.7,207.8 998.2,211.7" fill="#000" stroke="#000" stroke-width="0.8" stroke-linejoin="round"/>
<line x1="1106.2" y1="383.5" x2="1094.7" y2="201.6" stroke="#000" stroke-width="2.8" stroke-linecap="round"/>
<polygon points="1094.1,192.1 1099.9,204.3 1094.8,203.1 1089.9,204.9" fill="#000" stroke="#000" stroke-width="0.8" stroke-linejoin="round"/>
<line x1="1173.2" y1="352.1" x2="1220.7" y2="290.8" stroke="#000" stroke-width="2.8" stroke-linecap="round"/>
<polygon points="1226.5,283.3 1222.8,296.2 1219.8,292.0 1214.9,290.1" fill="#000" stroke="#000" stroke-width="0.8" stroke-linejoin="round"/>
<rect x="797.2" y="43" width="586.2" height="462.2" fill="none" stroke="#111" stroke-width="3"/>
<line x1="159.0" y1="1084.2" x2="159.0" y2="1091.4" stroke="#111" stroke-width="3"/>
<line x1="289.3" y1="1084.2" x2="289.3" y2="1091.4" stroke="#111" stroke-width="3"/>
<line x1="419.6" y1="1084.2" x2="419.6" y2="1091.4" stroke="#111" stroke-width="3"/>
<line x1="550.0" y1="1084.2" x2="550.0" y2="1091.4" stroke="#111" stroke-width="3"/>
<line x1="680.3" y1="1084.2" x2="680.3" y2="1091.4" stroke="#111" stroke-width="3"/>
<line x1="93.8" y1="1084.2" x2="93.8" y2="1087.8" stroke="#111" stroke-width="3"/>
<line x1="224.1" y1="1084.2" x2="224.1" y2="1087.8" stroke="#111" stroke-width="3"/>
<line x1="354.5" y1="1084.2" x2="354.5" y2="1087.8" stroke="#111" stroke-width="3"/>
<line x1="484.8" y1="1084.2" x2="484.8" y2="1087.8" stroke="#111" stroke-width="3"/>
<line x1="615.1" y1="1084.2" x2="615.1" y2="1087.8" stroke="#111" stroke-width="3"/>
<text x="159.0" y="1116.2" font-size="24.5" text-anchor="middle" fill="#1e1e1e" >536</text>
<text x="289.3" y="1116.2" font-size="24.5" text-anchor="middle" fill="#1e1e1e" >534</text>
<text x="419.6" y="1116.2" font-size="24.5" text-anchor="middle" fill="#1e1e1e" >532</text>
<text x="550.0" y="1116.2" font-size="24.5" text-anchor="middle" fill="#1e1e1e" >530</text>
<text x="680.3" y="1116.2" font-size="24.5" text-anchor="middle" fill="#1e1e1e" >528</text>
<text x="410" y="1156" font-size="27.7" text-anchor="middle" fill="#1e1e1e" >Binding Energy (eV)</text>
<text x="0" y="0" font-size="28.4" text-anchor="middle" fill="#1e1e1e" transform="translate(68.7,871.3) rotate(-90)">Intensity (a.u.)</text>
<text x="33" y="646.5" font-size="62" text-anchor="start" fill="#000" style="stroke:#000;stroke-width:0.5px">c</text>
<path d="M267.5,1028.1 L270.8,1027.9 L274.0,1027.8 L277.3,1027.6 L280.5,1027.3 L283.8,1026.9 L287.1,1026.4 L290.3,1025.9 L293.6,1025.1 L296.8,1024.2 L300.1,1023.1 L303.3,1021.8 L306.6,1020.2 L309.9,1018.4 L313.1,1016.2 L316.4,1013.8 L319.6,1011.0 L322.9,1007.8 L326.2,1004.4 L329.4,1000.6 L332.7,996.6 L335.9,992.3 L339.2,987.9 L342.4,983.3 L345.7,978.8 L349.0,974.3 L352.2,969.9 L355.5,965.8 L358.7,962.1 L362.0,958.9 L365.3,956.1 L368.5,954.1 L371.8,952.6 L375.0,952.0 L378.3,952.1 L381.5,953.2 L384.8,955.4 L388.1,958.4 L391.3,962.3 L394.6,966.8 L397.8,971.8 L401.1,977.1 L404.4,982.6 L407.6,988.0 L410.9,993.3 L414.1,998.4 L417.4,1003.0 L420.6,1007.2 L423.9,1011.0 L427.2,1014.3 L430.4,1017.1 L433.7,1019.5 L436.9,1021.5 L440.2,1023.1 L443.5,1024.4 L446.7,1025.4 L450.0,1026.2 L453.2,1026.8 L456.5,1027.3 L459.8,1027.6 L463.0,1027.8 L466.3,1028.0 L469.5,1028.1" fill="none" stroke="#1a1ad2" stroke-width="2.2" stroke-linejoin="round" stroke-linecap="round" />
<path d="M117.6,1028.1 L120.9,1028.0 L124.1,1028.0 L127.4,1028.0 L130.6,1028.0 L133.9,1028.0 L137.2,1028.0 L140.4,1028.0 L143.7,1028.0 L146.9,1028.0 L150.2,1028.0 L153.5,1028.0 L156.7,1028.0 L160.0,1027.9 L163.2,1027.9 L166.5,1027.9 L169.7,1027.9 L173.0,1027.9 L176.3,1027.9 L179.5,1027.9 L182.8,1027.9 L186.0,1027.8 L189.3,1027.8 L192.6,1027.8 L195.8,1027.8 L199.1,1027.8 L202.3,1027.8 L205.6,1027.7 L208.8,1027.7 L212.1,1027.7 L215.4,1027.7 L218.6,1027.6 L221.9,1027.6 L225.1,1027.6 L228.4,1027.6 L231.7,1027.5 L234.9,1027.5 L238.2,1027.5 L241.4,1027.5 L244.7,1027.4 L247.9,1027.4 L251.2,1027.4 L254.5,1027.3 L257.7,1027.3 L261.0,1027.2 L264.2,1027.2 L267.5,1027.1 L270.8,1027.1 L274.0,1027.0 L277.3,1027.0 L280.5,1026.9 L283.8,1026.8 L287.1,1026.7 L290.3,1026.6 L293.6,1026.5 L296.8,1026.4 L300.1,1026.2 L303.3,1026.1 L306.6,1025.8 L309.9,1025.5 L313.1,1025.2 L316.4,1024.7 L319.6,1024.1 L322.9,1023.3 L326.2,1022.3 L329.4,1021.0 L332.7,1019.4 L335.9,1017.3 L339.2,1014.8 L342.4,1011.6 L345.7,1007.7 L349.0,1003.0 L352.2,997.4 L355.5,990.6 L358.7,982.7 L362.0,973.5 L365.3,962.9 L368.5,950.9 L371.8,937.4 L375.0,922.6 L378.3,906.4 L381.5,889.1 L384.8,870.7 L388.1,851.6 L391.3,832.1 L394.6,812.5 L397.8,793.2 L401.1,774.7 L404.4,757.5 L407.6,742.0 L410.9,728.6 L414.1,717.8 L417.4,710.0 L420.6,705.3 L423.9,704.0 L427.2,705.6 L430.4,709.8 L433.7,716.5 L436.9,725.4 L440.2,736.3 L443.5,749.0 L446.7,763.2 L450.0,778.6 L453.2,794.9 L456.5,811.7 L459.8,828.8 L463.0,845.9 L466.3,862.8 L469.5,879.1 L472.8,894.8 L476.0,909.7 L479.3,923.7 L482.6,936.6 L485.8,948.5 L489.1,959.3 L492.3,969.0 L495.6,977.6 L498.9,985.2 L502.1,991.9 L505.4,997.7 L508.6,1002.6 L511.9,1006.9 L515.1,1010.4 L518.4,1013.4 L521.7,1015.9 L524.9,1018.0 L528.2,1019.7 L531.4,1021.1 L534.7,1022.2 L538.0,1023.1 L541.2,1023.8 L544.5,1024.4 L547.7,1024.9 L551.0,1025.3 L554.2,1025.6 L557.5,1025.8 L560.8,1026.0 L564.0,1026.2 L567.3,1026.3 L570.5,1026.5 L573.8,1026.6 L577.1,1026.7 L580.3,1026.7 L583.6,1026.8 L586.8,1026.9 L590.1,1026.9 L593.4,1027.0 L596.6,1027.0 L599.9,1027.1 L603.1,1027.1 L606.4,1027.2 L609.6,1027.2 L612.9,1027.3 L616.2,1027.3 L619.4,1027.3 L622.7,1027.4 L625.9,1027.4 L629.2,1027.4 L632.5,1027.5 L635.7,1027.5 L639.0,1027.5 L642.2,1027.5 L645.5,1027.6 L648.7,1027.6 L652.0,1027.6 L655.3,1027.6 L658.5,1027.6 L661.8,1027.7 L665.0,1027.7 L668.3,1027.7 L671.6,1027.7 L674.8,1027.7 L678.1,1027.8" fill="none" stroke="#f414f4" stroke-width="2.2" stroke-linejoin="round" stroke-linecap="round" />
<path d="M95.3,1028.1 L96.3,1027.9 L97.3,1027.7 L98.3,1028.5 L99.3,1027.5 L100.3,1028.1 L101.3,1028.6 L102.3,1027.6 L103.3,1028.2 L104.3,1028.2 L105.3,1027.5 L106.3,1027.9 L107.3,1028.3 L108.3,1028.0 L109.3,1028.3 L110.3,1027.7 L111.3,1027.8 L112.3,1027.6 L113.3,1028.1 L114.3,1028.6 L115.3,1028.2 L116.3,1028.4 L117.3,1027.9 L118.3,1028.4 L119.3,1027.6 L120.3,1027.8 L121.3,1028.3 L122.3,1028.3 L123.3,1027.9 L124.3,1027.5 L125.3,1027.8 L126.3,1027.7 L127.3,1027.8 L128.3,1028.4 L129.3,1027.7 L130.3,1028.5 L131.3,1028.5 L132.3,1027.5 L133.3,1027.9 L134.3,1028.0 L135.3,1027.4 L136.3,1027.9 L137.3,1028.5 L138.3,1027.5 L139.3,1028.1 L140.3,1027.5 L141.3,1028.1 L142.3,1028.5 L143.3,1027.6 L144.3,1027.4 L145.3,1027.5 L146.3,1028.0 L147.3,1027.4 L148.3,1027.5 L149.3,1028.0 L150.3,1028.5 L151.3,1027.9 L152.3,1027.8 L153.3,1028.1 L154.3,1027.5 L155.3,1028.1 L156.3,1027.6 L157.3,1028.1 L158.3,1028.5 L159.3,1027.4 L160.3,1028.0 L161.3,1028.1 L162.3,1027.5 L163.3,1027.6 L164.3,1028.5 L165.3,1028.5 L166.3,1027.5 L167.3,1028.2 L168.3,1028.5 L169.3,1027.6 L170.3,1028.0 L171.3,1027.3 L172.3,1027.7 L173.3,1028.1 L174.3,1028.0 L175.3,1028.2 L176.3,1027.4 L177.3,1027.7 L178.3,1028.3 L179.3,1028.0 L180.3,1027.8 L181.3,1027.7 L182.3,1028.4 L183.3,1027.9 L184.3,1027.3 L185.3,1028.2 L186.3,1027.6 L187.3,1027.7 L188.3,1027.5 L189.3,1027.8 L190.3,1027.6 L191.3,1027.3 L192.3,1028.0 L193.3,1027.3 L194.3,1028.1 L195.3,1027.2 L196.3,1028.1 L197.3,1028.1 L198.3,1027.8 L199.3,1028.0 L200.3,1027.5 L201.3,1028.0 L202.3,1027.7 L203.3,1027.4 L204.3,1028.3 L205.3,1027.6 L206.3,1027.6 L207.3,1028.2 L208.3,1027.6 L209.3,1027.9 L210.3,1027.3 L211.3,1028.1 L212.3,1027.4 L213.3,1027.1 L214.3,1028.2 L215.3,1027.3 L216.3,1028.2 L217.3,1028.2 L218.3,1027.8 L219.3,1027.1 L220.3,1027.1 L221.3,1027.3 L222.3,1027.5 L223.3,1027.7 L224.3,1028.2 L225.3,1027.4 L226.3,1027.2 L227.3,1027.7 L228.3,1027.1 L229.3,1027.1 L230.3,1027.6 L231.3,1027.8 L232.3,1027.0 L233.3,1027.5 L234.3,1027.8 L235.3,1027.8 L236.3,1027.4 L237.3,1028.0 L238.3,1027.1 L239.3,1027.7 L240.3,1027.7 L241.3,1027.8 L242.3,1027.2 L243.3,1026.6 L244.3,1026.5 L245.3,1026.9 L246.3,1026.4 L247.3,1026.8 L248.3,1026.1 L249.3,1026.8 L250.3,1026.3 L251.3,1026.2 L252.3,1026.1 L253.3,1026.0 L254.3,1025.9 L255.3,1025.8 L256.3,1025.7 L257.3,1025.5 L258.3,1025.4 L259.3,1025.2 L260.3,1025.1 L261.3,1024.9 L262.3,1024.8 L263.3,1024.6 L264.3,1024.5 L265.3,1024.3 L266.3,1024.1 L267.3,1024.0 L268.3,1023.8 L269.3,1023.6 L270.3,1023.5 L271.3,1023.3 L272.3,1023.1 L273.3,1022.9 L274.3,1022.7 L275.3,1022.5 L276.3,1022.3 L277.3,1022.1 L278.3,1021.8 L279.3,1021.6 L280.3,1021.3 L281.3,1021.1 L282.3,1020.8 L283.3,1020.5 L284.3,1020.2 L285.3,1019.9 L286.3,1019.6 L287.3,1019.3 L288.3,1019.0 L289.3,1018.6 L290.3,1018.2 L291.3,1017.9 L292.3,1017.5 L293.3,1017.1 L294.3,1016.6 L295.3,1016.2 L296.3,1015.9 L297.3,1015.6 L298.3,1015.2 L299.3,1014.8 L300.3,1014.4 L301.3,1013.9 L302.3,1013.5 L303.3,1013.0 L304.3,1012.5 L305.3,1011.9 L306.3,1011.3 L307.3,1010.7 L308.3,1010.1 L309.3,1009.5 L310.3,1009.0 L311.3,1008.5 L312.3,1007.9 L313.3,1007.3 L314.3,1006.7 L315.3,1006.0 L316.3,1005.3 L317.3,1004.5 L318.3,1003.7 L319.3,1002.9 L320.3,1002.0 L321.3,1001.1 L322.3,1000.3 L323.3,999.3 L324.3,998.3 L325.3,997.3 L326.3,996.2 L327.3,995.0 L328.3,993.8 L329.3,992.5 L330.3,991.2 L331.3,989.8 L332.3,988.3 L333.3,986.4 L334.3,984.5 L335.3,982.6 L336.3,980.5 L337.3,978.4 L338.3,976.3 L339.3,974.0 L340.3,971.7 L341.3,969.4 L342.3,966.9 L343.3,964.4 L344.3,961.9 L345.3,959.2 L346.3,956.5 L347.3,953.7 L348.3,950.8 L349.3,947.9 L350.3,944.9 L351.3,941.8 L352.3,938.6 L353.3,935.4 L354.3,932.1 L355.3,928.7 L356.3,925.2 L357.3,921.6 L358.3,918.0 L359.3,914.3 L360.3,910.5 L361.3,906.7 L362.3,902.7 L363.3,898.7 L364.3,894.6 L365.3,890.4 L366.3,886.2 L367.3,881.9 L368.3,877.5 L369.3,873.0 L370.3,868.5 L371.3,863.9 L372.3,859.2 L373.3,854.5 L374.3,849.7 L375.3,844.9 L376.3,840.0 L377.3,835.0 L378.3,830.1 L379.3,825.1 L380.3,820.1 L381.3,815.1 L382.3,810.2 L383.3,805.2 L384.3,800.2 L385.3,795.2 L386.3,790.3 L387.3,785.4 L388.3,780.5 L389.3,775.7 L390.3,770.9 L391.3,766.1 L392.3,761.4 L393.3,756.7 L394.3,752.2 L395.3,747.7 L396.3,743.3 L397.3,738.9 L398.3,734.9 L399.3,731.2 L400.3,727.7 L401.3,724.3 L402.3,720.9 L403.3,717.7 L404.3,714.6 L405.3,711.6 L406.3,708.7 L407.3,705.9 L408.3,703.3 L409.3,700.8 L410.3,698.4 L411.3,695.9 L412.3,693.7 L413.3,691.6 L414.3,689.8 L415.3,688.2 L416.3,686.9 L417.3,685.8 L418.3,684.9 L419.3,684.2 L420.3,684.0 L421.3,684.1 L422.3,684.6 L423.3,685.6 L424.3,686.9 L425.3,688.6 L426.3,690.6 L427.3,692.9 L428.3,695.4 L429.3,698.3 L430.3,701.3 L431.3,704.0 L432.3,706.9 L433.3,710.0 L434.3,713.2 L435.3,716.6 L436.3,720.2 L437.3,723.9 L438.3,727.7 L439.3,731.7 L440.3,735.8 L441.3,740.1 L442.3,744.5 L443.3,748.9 L444.3,753.5 L445.3,758.2 L446.3,763.0 L447.3,767.8 L448.3,772.8 L449.3,777.8 L450.3,782.8 L451.3,788.0 L452.3,793.1 L453.3,798.3 L454.3,803.6 L455.3,808.8 L456.3,814.1 L457.3,819.4 L458.3,824.6 L459.3,829.9 L460.3,835.1 L461.3,840.2 L462.3,845.2 L463.3,850.2 L464.3,855.1 L465.3,860.0 L466.3,864.9 L467.3,869.7 L468.3,874.5 L469.3,879.2 L470.3,883.9 L471.3,888.5 L472.3,893.0 L473.3,897.5 L474.3,901.9 L475.3,906.3 L476.3,910.7 L477.3,915.1 L478.3,919.4 L479.3,923.6 L480.3,927.7 L481.3,931.7 L482.3,935.6 L483.3,939.4 L484.3,943.1 L485.3,946.5 L486.3,949.7 L487.3,952.7 L488.3,955.6 L489.3,958.4 L490.3,961.1 L491.3,963.7 L492.3,966.2 L493.3,968.6 L494.3,970.9 L495.3,973.1 L496.3,975.2 L497.3,977.3 L498.3,979.2 L499.3,981.0 L500.3,982.8 L501.3,984.4 L502.3,986.1 L503.3,987.6 L504.3,989.1 L505.3,990.5 L506.3,991.9 L507.3,993.1 L508.3,994.3 L509.3,995.4 L510.3,996.4 L511.3,997.4 L512.3,998.3 L513.3,999.3 L514.3,1000.4 L515.3,1001.4 L516.3,1002.3 L517.3,1003.3 L518.3,1004.1 L519.3,1005.0 L520.3,1005.7 L521.3,1006.5 L522.3,1007.1 L523.3,1007.8 L524.3,1008.4 L525.3,1009.0 L526.3,1009.8 L527.3,1010.5 L528.3,1011.1 L529.3,1011.7 L530.3,1012.3 L531.3,1012.9 L532.3,1013.5 L533.3,1014.0 L534.3,1014.5 L535.3,1015.0 L536.3,1015.5 L537.3,1015.9 L538.3,1016.3 L539.3,1016.7 L540.3,1017.0 L541.3,1017.3 L542.3,1017.5 L543.3,1017.8 L544.3,1018.0 L545.3,1018.2 L546.3,1018.5 L547.3,1018.7 L548.3,1018.9 L549.3,1019.0 L550.3,1019.2 L551.3,1019.4 L552.3,1019.6 L553.3,1019.7 L554.3,1019.9 L555.3,1020.0 L556.3,1020.2 L557.3,1020.3 L558.3,1020.4 L559.3,1020.6 L560.3,1020.7 L561.3,1020.8 L562.3,1020.9 L563.3,1021.1 L564.3,1021.2 L565.3,1021.4 L566.3,1021.5 L567.3,1021.7 L568.3,1021.8 L569.3,1022.0 L570.3,1022.1 L571.3,1022.2 L572.3,1022.4 L573.3,1022.5 L574.3,1022.6 L575.3,1022.7 L576.3,1022.9 L577.3,1023.0 L578.3,1023.1 L579.3,1023.3 L580.3,1023.4 L581.3,1023.5 L582.3,1023.6 L583.3,1023.7 L584.3,1023.9 L585.3,1024.0 L586.3,1024.1 L587.3,1024.2 L588.3,1024.2 L589.3,1024.3 L590.3,1024.4 L591.3,1024.5 L592.3,1024.6 L593.3,1024.7 L594.3,1024.8 L595.3,1024.8 L596.3,1024.9 L597.3,1025.0 L598.3,1025.1 L599.3,1025.2 L600.3,1025.1 L601.3,1025.1 L602.3,1026.0 L603.3,1025.1 L604.3,1026.1 L605.3,1025.7 L606.3,1026.0 L607.3,1025.4 L608.3,1026.2 L609.3,1026.4 L610.3,1025.6 L611.3,1026.0 L612.3,1026.2 L613.3,1026.1 L614.3,1026.4 L615.3,1026.3 L616.3,1026.0 L617.3,1026.5 L618.3,1026.6 L619.3,1026.3 L620.3,1026.4 L621.3,1026.5 L622.3,1026.4 L623.3,1025.9 L624.3,1026.4 L625.3,1026.8 L626.3,1026.8 L627.3,1026.1 L628.3,1026.6 L629.3,1026.7 L630.3,1026.7 L631.3,1026.3 L632.3,1026.9 L633.3,1027.0 L634.3,1026.8 L635.3,1027.4 L636.3,1027.0 L637.3,1026.3 L638.3,1026.7 L639.3,1027.2 L640.3,1026.5 L641.3,1027.6 L642.3,1027.3 L643.3,1027.4 L644.3,1026.7 L645.3,1026.6 L646.3,1027.6 L647.3,1027.2 L648.3,1027.2 L649.3,1027.3 L650.3,1027.6 L651.3,1027.2 L652.3,1027.7 L653.3,1026.9 L654.3,1027.9 L655.3,1027.6 L656.3,1027.2 L657.3,1027.4 L658.3,1027.9 L659.3,1027.2 L660.3,1027.7 L661.3,1028.0 L662.3,1028.0 L663.3,1027.2 L664.3,1027.9 L665.3,1027.7 L666.3,1027.9 L667.3,1027.1 L668.3,1027.5 L669.3,1027.5 L670.3,1028.0 L671.3,1027.6 L672.3,1027.1 L673.3,1027.3 L674.3,1028.1 L675.3,1028.2 L676.3,1027.8 L677.3,1027.2 L678.3,1028.1" fill="none" stroke="#0d0d0d" stroke-width="2.4" stroke-linejoin="round" stroke-linecap="round" />
<path d="M95.3,1028.1 L96.3,1028.1 L97.3,1028.1 L98.3,1028.1 L99.3,1028.1 L100.3,1028.1 L101.3,1028.1 L102.3,1028.1 L103.3,1028.1 L104.3,1028.1 L105.3,1028.1 L106.3,1028.1 L107.3,1028.1 L108.3,1028.1 L109.3,1028.1 L110.3,1028.1 L111.3,1028.1 L112.3,1028.1 L113.3,1028.1 L114.3,1028.1 L115.3,1028.1 L116.3,1028.1 L117.3,1028.1 L118.3,1028.1 L119.3,1028.1 L120.3,1028.1 L121.3,1028.0 L122.3,1028.0 L123.3,1028.0 L124.3,1028.0 L125.3,1028.0 L126.3,1028.0 L127.3,1028.0 L128.3,1028.0 L129.3,1028.0 L130.3,1028.0 L131.3,1028.0 L132.3,1028.0 L133.3,1028.0 L134.3,1028.0 L135.3,1028.0 L136.3,1028.0 L137.3,1028.0 L138.3,1028.0 L139.3,1028.0 L140.3,1028.0 L141.3,1028.0 L142.3,1028.0 L143.3,1028.0 L144.3,1028.0 L145.3,1028.0 L146.3,1028.0 L147.3,1028.0 L148.3,1028.0 L149.3,1028.0 L150.3,1028.0 L151.3,1028.0 L152.3,1028.0 L153.3,1028.0 L154.3,1028.0 L155.3,1028.0 L156.3,1028.0 L157.3,1027.9 L158.3,1027.9 L159.3,1027.9 L160.3,1027.9 L161.3,1027.9 L162.3,1027.9 L163.3,1027.9 L164.3,1027.9 L165.3,1027.9 L166.3,1027.9 L167.3,1027.9 L168.3,1027.9 L169.3,1027.9 L170.3,1027.9 L171.3,1027.9 L172.3,1027.9 L173.3,1027.9 L174.3,1027.9 L175.3,1027.9 L176.3,1027.9 L177.3,1027.9 L178.3,1027.9 L179.3,1027.9 L180.3,1027.9 L181.3,1027.9 L182.3,1027.9 L183.3,1027.8 L184.3,1027.8 L185.3,1027.8 L186.3,1027.8 L187.3,1027.8 L188.3,1027.8 L189.3,1027.8 L190.3,1027.8 L191.3,1027.8 L192.3,1027.8 L193.3,1027.8 L194.3,1027.8 L195.3,1027.8 L196.3,1027.8 L197.3,1027.8 L198.3,1027.8 L199.3,1027.8 L200.3,1027.8 L201.3,1027.8 L202.3,1027.8 L203.3,1027.7 L204.3,1027.7 L205.3,1027.7 L206.3,1027.7 L207.3,1027.7 L208.3,1027.7 L209.3,1027.7 L210.3,1027.7 L211.3,1027.7 L212.3,1027.7 L213.3,1027.7 L214.3,1027.7 L215.3,1027.7 L216.3,1027.7 L217.3,1027.7 L218.3,1027.6 L219.3,1027.6 L220.3,1027.6 L221.3,1027.6 L222.3,1027.6 L223.3,1027.6 L224.3,1027.6 L225.3,1027.6 L226.3,1027.6 L227.3,1027.6 L228.3,1027.6 L229.3,1027.6 L230.3,1027.6 L231.3,1027.5 L232.3,1027.5 L233.3,1027.5 L234.3,1027.5 L235.3,1027.5 L236.3,1027.5 L237.3,1027.5 L238.3,1027.5 L239.3,1027.5 L240.3,1027.5 L241.3,1027.4 L242.3,1027.4 L243.3,1027.4 L244.3,1027.4 L245.3,1027.4 L246.3,1027.4 L247.3,1027.4 L248.3,1027.3 L249.3,1027.3 L250.3,1027.3 L251.3,1027.3 L252.3,1027.3 L253.3,1027.3 L254.3,1027.2 L255.3,1027.2 L256.3,1027.2 L257.3,1027.2 L258.3,1027.1 L259.3,1027.1 L260.3,1027.1 L261.3,1027.0 L262.3,1027.0 L263.3,1027.0 L264.3,1026.9 L265.3,1026.9 L266.3,1026.9 L267.3,1026.8 L268.3,1026.8 L269.3,1026.7 L270.3,1026.7 L271.3,1026.6 L272.3,1026.5 L273.3,1026.5 L274.3,1026.4 L275.3,1026.3 L276.3,1026.2 L277.3,1026.1 L278.3,1026.0 L279.3,1025.9 L280.3,1025.8 L281.3,1025.7 L282.3,1025.5 L283.3,1025.4 L284.3,1025.2 L285.3,1025.1 L286.3,1024.9 L287.3,1024.7 L288.3,1024.5 L289.3,1024.3 L290.3,1024.1 L291.3,1023.9 L292.3,1023.6 L293.3,1023.3 L294.3,1023.0 L295.3,1022.7 L296.3,1022.4 L297.3,1022.1 L298.3,1021.7 L299.3,1021.3 L300.3,1020.9 L301.3,1020.4 L302.3,1020.0 L303.3,1019.5 L304.3,1019.0 L305.3,1018.4 L306.3,1017.8 L307.3,1017.2 L308.3,1016.6 L309.3,1015.9 L310.3,1015.2 L311.3,1014.4 L312.3,1013.7 L313.3,1012.8 L314.3,1012.0 L315.3,1011.1 L316.3,1010.1 L317.3,1009.1 L318.3,1008.1 L319.3,1007.0 L320.3,1005.9 L321.3,1004.7 L322.3,1003.5 L323.3,1002.2 L324.3,1000.9 L325.3,999.5 L326.3,998.1 L327.3,996.6 L328.3,995.0 L329.3,993.4 L330.3,991.8 L331.3,990.0 L332.3,988.3 L333.3,986.4 L334.3,984.5 L335.3,982.6 L336.3,980.5 L337.3,978.4 L338.3,976.3 L339.3,974.0 L340.3,971.7 L341.3,969.4 L342.3,966.9 L343.3,964.4 L344.3,961.9 L345.3,959.2 L346.3,956.5 L347.3,953.7 L348.3,950.8 L349.3,947.9 L350.3,944.9 L351.3,941.8 L352.3,938.6 L353.3,935.4 L354.3,932.1 L355.3,928.7 L356.3,925.2 L357.3,921.6 L358.3,918.0 L359.3,914.3 L360.3,910.5 L361.3,906.7 L362.3,902.7 L363.3,898.7 L364.3,894.6 L365.3,890.4 L366.3,886.2 L367.3,881.9 L368.3,877.5 L369.3,873.0 L370.3,868.5 L371.3,863.9 L372.3,859.2 L373.3,854.5 L374.3,849.7 L375.3,844.9 L376.3,840.0 L377.3,835.0 L378.3,830.1 L379.3,825.1 L380.3,820.1 L381.3,815.1 L382.3,810.2 L383.3,805.2 L384.3,800.2 L385.3,795.2 L386.3,790.3 L387.3,785.4 L388.3,780.5 L389.3,775.7 L390.3,770.9 L391.3,766.1 L392.3,761.4 L393.3,756.7 L394.3,752.2 L395.3,747.7 L396.3,743.3 L397.3,738.9 L398.3,734.7 L399.3,730.6 L400.3,726.6 L401.3,722.7 L402.3,718.9 L403.3,715.3 L404.3,711.9 L405.3,708.6 L406.3,705.4 L407.3,702.5 L408.3,699.7 L409.3,697.2 L410.3,694.8 L411.3,692.6 L412.3,690.7 L413.3,689.0 L414.3,687.5 L415.3,686.3 L416.3,685.3 L417.3,684.6 L418.3,684.2 L419.3,684.0 L420.3,684.1 L421.3,684.4 L422.3,685.0 L423.3,685.9 L424.3,687.1 L425.3,688.5 L426.3,690.0 L427.3,691.8 L428.3,693.8 L429.3,695.9 L430.3,698.3 L431.3,700.8 L432.3,703.5 L433.3,706.4 L434.3,709.5 L435.3,712.8 L436.3,716.2 L437.3,719.8 L438.3,723.5 L439.3,727.4 L440.3,731.4 L441.3,735.6 L442.3,739.9 L443.3,744.3 L444.3,748.8 L445.3,753.5 L446.3,758.2 L447.3,763.1 L448.3,768.0 L449.3,773.0 L450.3,778.1 L451.3,783.2 L452.3,788.4 L453.3,793.6 L454.3,798.9 L455.3,804.2 L456.3,809.5 L457.3,814.9 L458.3,820.2 L459.3,825.6 L460.3,830.9 L461.3,836.3 L462.3,841.6 L463.3,846.9 L464.3,852.1 L465.3,857.4 L466.3,862.5 L467.3,867.7 L468.3,872.7 L469.3,877.7 L470.3,882.7 L471.3,887.5 L472.3,892.3 L473.3,897.1 L474.3,901.7 L475.3,906.3 L476.3,910.7 L477.3,915.1 L478.3,919.4 L479.3,923.6 L480.3,927.7 L481.3,931.7 L482.3,935.6 L483.3,939.4 L484.3,943.1 L485.3,946.6 L486.3,950.1 L487.3,953.5 L488.3,956.8 L489.3,960.0 L490.3,963.0 L491.3,966.0 L492.3,968.9 L493.3,971.6 L494.3,974.3 L495.3,976.9 L496.3,979.3 L497.3,981.7 L498.3,984.0 L499.3,986.2 L500.3,988.3 L501.3,990.3 L502.3,992.3 L503.3,994.1 L504.3,995.9 L505.3,997.6 L506.3,999.2 L507.3,1000.7 L508.3,1002.2 L509.3,1003.6 L510.3,1004.9 L511.3,1006.1 L512.3,1007.3 L513.3,1008.5 L514.3,1009.6 L515.3,1010.6 L516.3,1011.5 L517.3,1012.5 L518.3,1013.3 L519.3,1014.2 L520.3,1014.9 L521.3,1015.7 L522.3,1016.3 L523.3,1017.0 L524.3,1017.6 L525.3,1018.2 L526.3,1018.7 L527.3,1019.2 L528.3,1019.7 L529.3,1020.2 L530.3,1020.6 L531.3,1021.0 L532.3,1021.4 L533.3,1021.7 L534.3,1022.0 L535.3,1022.4 L536.3,1022.6 L537.3,1022.9 L538.3,1023.2 L539.3,1023.4 L540.3,1023.6 L541.3,1023.8 L542.3,1024.0 L543.3,1024.2 L544.3,1024.4 L545.3,1024.5 L546.3,1024.7 L547.3,1024.8 L548.3,1025.0 L549.3,1025.1 L550.3,1025.2 L551.3,1025.3 L552.3,1025.4 L553.3,1025.5 L554.3,1025.6 L555.3,1025.7 L556.3,1025.7 L557.3,1025.8 L558.3,1025.9 L559.3,1025.9 L560.3,1026.0 L561.3,1026.1 L562.3,1026.1 L563.3,1026.2 L564.3,1026.2 L565.3,1026.3 L566.3,1026.3 L567.3,1026.3 L568.3,1026.4 L569.3,1026.4 L570.3,1026.5 L571.3,1026.5 L572.3,1026.5 L573.3,1026.6 L574.3,1026.6 L575.3,1026.6 L576.3,1026.6 L577.3,1026.7 L578.3,1026.7 L579.3,1026.7 L580.3,1026.7 L581.3,1026.8 L582.3,1026.8 L583.3,1026.8 L584.3,1026.8 L585.3,1026.9 L586.3,1026.9 L587.3,1026.9 L588.3,1026.9 L589.3,1026.9 L590.3,1026.9 L591.3,1027.0 L592.3,1027.0 L593.3,1027.0 L594.3,1027.0 L595.3,1027.0 L596.3,1027.0 L597.3,1027.1 L598.3,1027.1 L599.3,1027.1 L600.3,1027.1 L601.3,1027.1 L602.3,1027.1 L603.3,1027.1 L604.3,1027.2 L605.3,1027.2 L606.3,1027.2 L607.3,1027.2 L608.3,1027.2 L609.3,1027.2 L610.3,1027.2 L611.3,1027.2 L612.3,1027.3 L613.3,1027.3 L614.3,1027.3 L615.3,1027.3 L616.3,1027.3 L617.3,1027.3 L618.3,1027.3 L619.3,1027.3 L620.3,1027.3 L621.3,1027.4 L622.3,1027.4 L623.3,1027.4 L624.3,1027.4 L625.3,1027.4 L626.3,1027.4 L627.3,1027.4 L628.3,1027.4 L629.3,1027.4 L630.3,1027.4 L631.3,1027.4 L632.3,1027.5 L633.3,1027.5 L634.3,1027.5 L635.3,1027.5 L636.3,1027.5 L637.3,1027.5 L638.3,1027.5 L639.3,1027.5 L640.3,1027.5 L641.3,1027.5 L642.3,1027.5 L643.3,1027.5 L644.3,1027.6 L645.3,1027.6 L646.3,1027.6 L647.3,1027.6 L648.3,1027.6 L649.3,1027.6 L650.3,1027.6 L651.3,1027.6 L652.3,1027.6 L653.3,1027.6 L654.3,1027.6 L655.3,1027.6 L656.3,1027.6 L657.3,1027.6 L658.3,1027.6 L659.3,1027.7 L660.3,1027.7 L661.3,1027.7 L662.3,1027.7 L663.3,1027.7 L664.3,1027.7 L665.3,1027.7 L666.3,1027.7 L667.3,1027.7 L668.3,1027.7 L669.3,1027.7 L670.3,1027.7 L671.3,1027.7 L672.3,1027.7 L673.3,1027.7 L674.3,1027.7 L675.3,1027.7 L676.3,1027.7 L677.3,1027.8 L678.3,1027.8" fill="none" stroke="#e6121b" stroke-width="2.8" stroke-linejoin="round" stroke-linecap="round" />
<line x1="93.8" y1="1028.4" x2="680.3" y2="1028.4" stroke="#e6121b" stroke-width="2.7"/>
<text x="607.5" y="656.8" font-size="22.5" text-anchor="start" fill="#1e1e1e" word-spacing="4">O 1s</text>
<text x="506.5" y="869.5" font-size="23.3" text-anchor="start" fill="#1e1e1e" >531.9 eV</text>
<text x="517" y="898.4" font-size="23.3" text-anchor="start" fill="#1e1e1e" >O=C</text>
<text x="263" y="915" font-size="23.3" text-anchor="start" fill="#1e1e1e" >532.7 eV</text>
<text x="275.5" y="944.9" font-size="23.3" text-anchor="start" fill="#1e1e1e" >O-C</text>
<line x1="473.9" y1="979.0" x2="521.0" y2="918.3" stroke="#000" stroke-width="2.8" stroke-linecap="round"/>
<polygon points="526.8,910.8 523.1,923.7 520.1,919.5 515.2,917.6" fill="#000" stroke="#000" stroke-width="0.8" stroke-linejoin="round"/>
<line x1="341.8" y1="1010.0" x2="310.0" y2="964.2" stroke="#000" stroke-width="2.8" stroke-linecap="round"/>
<polygon points="304.6,956.4 315.8,963.8 310.9,965.4 307.6,969.5" fill="#000" stroke="#000" stroke-width="0.8" stroke-linejoin="round"/>
<rect x="93.8" y="622.4" width="586.5" height="461.8" fill="none" stroke="#111" stroke-width="3"/>
<line x1="793.4" y1="1087.9" x2="793.4" y2="1094.7" stroke="#111" stroke-width="3"/>
<line x1="891.0" y1="1087.9" x2="891.0" y2="1094.7" stroke="#111" stroke-width="3"/>
<line x1="988.5" y1="1087.9" x2="988.5" y2="1094.7" stroke="#111" stroke-width="3"/>
<line x1="1086.1" y1="1087.9" x2="1086.1" y2="1094.7" stroke="#111" stroke-width="3"/>
<line x1="1183.7" y1="1087.9" x2="1183.7" y2="1094.7" stroke="#111" stroke-width="3"/>
<line x1="1281.2" y1="1087.9" x2="1281.2" y2="1094.7" stroke="#111" stroke-width="3"/>
<line x1="1378.8" y1="1087.9" x2="1378.8" y2="1094.7" stroke="#111" stroke-width="3"/>
<line x1="842.2" y1="1087.9" x2="842.2" y2="1091.5" stroke="#111" stroke-width="3"/>
<line x1="939.8" y1="1087.9" x2="939.8" y2="1091.5" stroke="#111" stroke-width="3"/>
<line x1="1037.3" y1="1087.9" x2="1037.3" y2="1091.5" stroke="#111" stroke-width="3"/>
<line x1="1134.9" y1="1087.9" x2="1134.9" y2="1091.5" stroke="#111" stroke-width="3"/>
<line x1="1232.4" y1="1087.9" x2="1232.4" y2="1091.5" stroke="#111" stroke-width="3"/>
<line x1="1330.0" y1="1087.9" x2="1330.0" y2="1091.5" stroke="#111" stroke-width="3"/>
<text x="793.4" y="1119" font-size="24.5" text-anchor="middle" fill="#1e1e1e" >406</text>
<text x="891.0" y="1119" font-size="24.5" text-anchor="middle" fill="#1e1e1e" >404</text>
<text x="988.5" y="1119" font-size="24.5" text-anchor="middle" fill="#1e1e1e" >402</text>
<text x="1086.1" y="1119" font-size="24.5" text-anchor="middle" fill="#1e1e1e" >400</text>
<text x="1183.7" y="1119" font-size="24.5" text-anchor="middle" fill="#1e1e1e" >398</text>
<text x="1281.2" y="1119" font-size="24.5" text-anchor="middle" fill="#1e1e1e" >396</text>
<text x="1378.8" y="1119" font-size="24.5" text-anchor="middle" fill="#1e1e1e" >394</text>
<text x="1099.7" y="1155.2" font-size="27.6" text-anchor="middle" fill="#1e1e1e" >Binding Energy (eV)</text>
<text x="0" y="0" font-size="28.4" text-anchor="middle" fill="#1e1e1e" transform="translate(762.3,874.5) rotate(-90)">Intensity (a.u.)</text>
<text x="729" y="646.5" font-size="62" text-anchor="start" fill="#000" style="stroke:#000;stroke-width:0.5px">d</text>
<path d="M962.7,1033.7 L965.1,1033.6 L967.6,1033.4 L970.0,1033.2 L972.4,1032.8 L974.9,1032.3 L977.3,1031.7 L979.8,1030.9 L982.2,1029.9 L984.6,1028.6 L987.1,1027.1 L989.5,1025.2 L992.0,1022.9 L994.4,1020.3 L996.8,1017.3 L999.3,1014.0 L1001.7,1010.4 L1004.2,1006.5 L1006.6,1002.5 L1009.0,998.4 L1011.5,994.4 L1013.9,990.5 L1016.3,987.0 L1018.8,984.0 L1021.2,981.6 L1023.7,979.9 L1026.1,979.0 L1028.5,978.8 L1031.0,979.5 L1033.4,981.0 L1035.9,983.2 L1038.3,986.1 L1040.7,989.4 L1043.2,993.1 L1045.6,997.1 L1048.1,1001.2 L1050.5,1005.3 L1052.9,1009.2 L1055.4,1012.9 L1057.8,1016.3 L1060.3,1019.4 L1062.7,1022.1 L1065.1,1024.5 L1067.6,1026.5 L1070.0,1028.2 L1072.4,1029.5 L1074.9,1030.6 L1077.3,1031.5 L1079.8,1032.2 L1082.2,1032.7 L1084.6,1033.1 L1087.1,1033.3 L1089.5,1033.5 L1092.0,1033.7" fill="none" stroke="#1a1ad2" stroke-width="2.2" stroke-linejoin="round" stroke-linecap="round" />
<path d="M794.4,1033.5 L796.8,1033.5 L799.3,1033.5 L801.7,1033.5 L804.2,1033.5 L806.6,1033.5 L809.0,1033.5 L811.5,1033.5 L813.9,1033.5 L816.4,1033.5 L818.8,1033.5 L821.2,1033.4 L823.7,1033.4 L826.1,1033.4 L828.5,1033.4 L831.0,1033.4 L833.4,1033.4 L835.9,1033.4 L838.3,1033.4 L840.7,1033.4 L843.2,1033.4 L845.6,1033.3 L848.1,1033.3 L850.5,1033.3 L852.9,1033.3 L855.4,1033.3 L857.8,1033.3 L860.3,1033.3 L862.7,1033.3 L865.1,1033.2 L867.6,1033.2 L870.0,1033.2 L872.4,1033.2 L874.9,1033.2 L877.3,1033.2 L879.8,1033.1 L882.2,1033.1 L884.6,1033.1 L887.1,1033.1 L889.5,1033.1 L892.0,1033.0 L894.4,1033.0 L896.8,1033.0 L899.3,1033.0 L901.7,1033.0 L904.2,1032.9 L906.6,1032.9 L909.0,1032.9 L911.5,1032.9 L913.9,1032.8 L916.3,1032.8 L918.8,1032.8 L921.2,1032.7 L923.7,1032.7 L926.1,1032.7 L928.5,1032.6 L931.0,1032.6 L933.4,1032.6 L935.9,1032.5 L938.3,1032.5 L940.7,1032.5 L943.2,1032.4 L945.6,1032.4 L948.1,1032.3 L950.5,1032.3 L952.9,1032.2 L955.4,1032.2 L957.8,1032.1 L960.3,1032.0 L962.7,1032.0 L965.1,1031.9 L967.6,1031.8 L970.0,1031.8 L972.4,1031.7 L974.9,1031.6 L977.3,1031.5 L979.8,1031.4 L982.2,1031.3 L984.6,1031.2 L987.1,1031.1 L989.5,1030.9 L992.0,1030.7 L994.4,1030.5 L996.8,1030.3 L999.3,1030.1 L1001.7,1029.7 L1004.2,1029.4 L1006.6,1029.0 L1009.0,1028.4 L1011.5,1027.8 L1013.9,1027.1 L1016.3,1026.3 L1018.8,1025.2 L1021.2,1024.0 L1023.7,1022.6 L1026.1,1020.9 L1028.5,1018.9 L1031.0,1016.6 L1033.4,1013.9 L1035.9,1010.7 L1038.3,1007.1 L1040.7,1003.0 L1043.2,998.3 L1045.6,992.9 L1048.1,986.9 L1050.5,980.2 L1052.9,972.8 L1055.4,964.6 L1057.8,955.7 L1060.3,945.9 L1062.7,935.5 L1065.1,924.2 L1067.6,912.4 L1070.0,899.8 L1072.4,886.8 L1074.9,873.3 L1077.3,859.5 L1079.8,845.5 L1082.2,831.5 L1084.6,817.7 L1087.1,804.1 L1089.5,791.1 L1092.0,778.8 L1094.4,767.3 L1096.8,757.0 L1099.3,747.9 L1101.7,740.4 L1104.2,734.4 L1106.6,730.2 L1109.0,727.8 L1111.5,727.2 L1113.9,728.4 L1116.3,731.2 L1118.8,735.6 L1121.2,741.4 L1123.7,748.7 L1126.1,757.1 L1128.5,766.7 L1131.0,777.2 L1133.4,788.5 L1135.9,800.4 L1138.3,812.8 L1140.7,825.6 L1143.2,838.5 L1145.6,851.5 L1148.1,864.4 L1150.5,877.1 L1152.9,889.5 L1155.4,901.6 L1157.8,913.1 L1160.2,924.1 L1162.7,934.5 L1165.1,944.3 L1167.6,953.5 L1170.0,962.0 L1172.4,969.8 L1174.9,977.0 L1177.3,983.5 L1179.8,989.4 L1182.2,994.8 L1184.6,999.5 L1187.1,1003.8 L1189.5,1007.5 L1192.0,1010.9 L1194.4,1013.8 L1196.8,1016.3 L1199.3,1018.5 L1201.7,1020.4 L1204.2,1022.1 L1206.6,1023.5 L1209.0,1024.7 L1211.5,1025.7 L1213.9,1026.6 L1216.3,1027.4 L1218.8,1028.0 L1221.2,1028.5 L1223.7,1029.0 L1226.1,1029.4 L1228.5,1029.7 L1231.0,1030.0 L1233.4,1030.3 L1235.9,1030.5 L1238.3,1030.7 L1240.7,1030.8 L1243.2,1031.0 L1245.6,1031.1 L1248.1,1031.2 L1250.5,1031.3 L1252.9,1031.4 L1255.4,1031.5 L1257.8,1031.6 L1260.2,1031.7 L1262.7,1031.8 L1265.1,1031.8 L1267.6,1031.9 L1270.0,1032.0 L1272.4,1032.0 L1274.9,1032.1 L1277.3,1032.1 L1279.8,1032.2 L1282.2,1032.2 L1284.6,1032.3 L1287.1,1032.3 L1289.5,1032.4 L1292.0,1032.3 L1294.4,1032.2 L1296.8,1032.1 L1299.3,1032.0 L1301.7,1031.9 L1304.2,1031.8 L1306.6,1031.7 L1309.0,1031.5 L1311.5,1031.4 L1313.9,1031.3 L1316.3,1031.2 L1318.8,1031.1 L1321.2,1031.0 L1323.7,1030.9 L1326.1,1030.7 L1328.5,1030.6 L1331.0,1030.5 L1333.4,1030.4 L1335.9,1030.3 L1338.3,1030.2 L1340.7,1030.0 L1343.2,1029.9 L1345.6,1029.8 L1348.1,1029.7 L1350.5,1029.5 L1352.9,1029.4 L1355.4,1029.3 L1357.8,1029.2 L1360.2,1029.0 L1362.7,1028.9 L1365.1,1028.8 L1367.6,1028.7 L1370.0,1028.5 L1372.4,1028.4 L1374.9,1028.3 L1377.3,1028.1" fill="none" stroke="#f414f4" stroke-width="2.2" stroke-linejoin="round" stroke-linecap="round" />
<path d="M795.1,1035.0 L802.2,1021.6 L807.1,1032.1 L811.3,1037.1 L813.4,1033.6 L817.7,1011.7 L821.2,1010.3 L826.8,1005.4 L832.5,1029.3 L840.9,1019.5 L845.9,1021.6 L850.8,1038.5 L856.4,1035.7 L860.7,1037.8 L865.6,1045.5 L869.8,1036.4 L876.2,1009.6 L881.1,1025.8 L886.0,1030.0 L890.2,1035.7 L895.9,1030.0 L900.8,1038.5 L905.8,1036.4 L910.0,1030.0 L915.6,1018.1 L922.7,1023.7 L928.3,1032.1 L934.6,1029.3 L940.3,1035.0 L944.5,1032.1 L949.4,1021.6 L953.7,1035.0 L958.6,1026.5 L967.8,1020.9 L973.4,1009.6 L980.5,1004.7 L986.1,1006.1 L990.7,1014.9 L993.7,1023.7 L997.6,1001.2 L1002.9,981.7 L1005.9,992.4 L1009.3,984.6 L1013.2,975.9 L1017.6,969.0 L1021.0,975.9 L1022.9,976.8 L1024.9,959.3 L1027.8,945.6 L1030.7,958.3 L1033.2,966.1 L1036.6,957.3 L1042.4,958.3 L1047.3,949.5 L1052.2,961.2 L1055.1,945.6 L1058.0,934.9 L1059.2,929.0 L1063.5,918.4 L1067.7,905.6 L1076.2,869.6 L1080.4,844.2 L1084.7,831.4 L1088.9,814.5 L1092.1,784.8 L1094.2,763.6 L1096.3,753.0 L1100.6,744.5 L1105.9,740.3 L1111.2,731.8 L1115.4,714.8 L1120.7,729.7 L1122.8,753.0 L1127.1,763.6 L1131.3,780.6 L1137.7,801.8 L1141.9,831.4 L1146.2,852.6 L1152.5,880.2 L1161.0,916.2 L1167.4,943.8 L1174.3,977.3 L1178.4,998.3 L1183.2,990.2 L1187.3,1012.9 L1192.9,1024.3 L1197.8,1004.0 L1202.7,1019.4 L1208.3,1017.0 L1213.2,1019.4 L1217.3,1027.5 L1222.9,1005.6 L1232.7,1027.5 L1237.5,1017.8 L1247.2,1029.1 L1252.1,1015.4 L1257.0,1017.8 L1261.8,1027.5 L1265.9,1044.5 L1271.6,1039.7 L1276.4,1038.5 L1280.5,1034.0 L1286.1,1020.2 L1291.0,1051.0 L1295.0,1013.7 L1300.7,1022.7 L1305.6,1035.6 L1310.5,1039.7 L1314.5,1021.0 L1319.4,1006.5 L1325.0,1016.2 L1329.9,1017.8 L1334.8,1025.9 L1339.6,1011.3 L1344.5,1032.4 L1350.2,1037.2 L1355.0,1025.9 L1360.7,1027.5 L1368.0,1030.0 L1373.7,1020.2 L1377.5,1025.9" fill="none" stroke="#0d0d0d" stroke-width="2.3" stroke-linejoin="round" stroke-linecap="round" />
<path d="M794.9,1033.5 L795.9,1033.5 L796.9,1033.5 L797.9,1033.5 L798.9,1033.5 L799.9,1033.5 L800.9,1033.5 L801.9,1033.5 L802.9,1033.5 L803.9,1033.5 L804.9,1033.5 L805.9,1033.5 L806.9,1033.5 L807.9,1033.5 L808.9,1033.5 L809.9,1033.5 L810.9,1033.5 L811.9,1033.5 L812.9,1033.5 L813.9,1033.5 L814.9,1033.5 L815.9,1033.5 L816.9,1033.5 L817.9,1033.5 L818.9,1033.5 L819.9,1033.5 L820.9,1033.5 L821.9,1033.4 L822.9,1033.4 L823.9,1033.4 L824.9,1033.4 L825.9,1033.4 L826.9,1033.4 L827.9,1033.4 L828.9,1033.4 L829.9,1033.4 L830.9,1033.4 L831.9,1033.4 L832.9,1033.4 L833.9,1033.4 L834.9,1033.4 L835.9,1033.4 L836.9,1033.4 L837.9,1033.4 L838.9,1033.4 L839.9,1033.4 L840.9,1033.4 L841.9,1033.4 L842.9,1033.4 L843.9,1033.4 L844.9,1033.3 L845.9,1033.3 L846.9,1033.3 L847.9,1033.3 L848.9,1033.3 L849.9,1033.3 L850.9,1033.3 L851.9,1033.3 L852.9,1033.3 L853.9,1033.3 L854.9,1033.3 L855.9,1033.3 L856.9,1033.3 L857.9,1033.3 L858.9,1033.3 L859.9,1033.3 L860.9,1033.3 L861.9,1033.3 L862.9,1033.3 L863.9,1033.2 L864.9,1033.2 L865.9,1033.2 L866.9,1033.2 L867.9,1033.2 L868.9,1033.2 L869.9,1033.2 L870.9,1033.2 L871.9,1033.2 L872.9,1033.2 L873.9,1033.2 L874.9,1033.2 L875.9,1033.2 L876.9,1033.2 L877.9,1033.2 L878.9,1033.1 L879.9,1033.1 L880.9,1033.1 L881.9,1033.1 L882.9,1033.1 L883.9,1033.1 L884.9,1033.1 L885.9,1033.1 L886.9,1033.1 L887.9,1033.1 L888.9,1033.1 L889.9,1033.1 L890.9,1033.1 L891.9,1033.0 L892.9,1033.0 L893.9,1033.0 L894.9,1033.0 L895.9,1033.0 L896.9,1033.0 L897.9,1033.0 L898.9,1033.0 L899.9,1033.0 L900.9,1033.0 L901.9,1033.0 L902.9,1032.9 L903.9,1032.9 L904.9,1032.9 L905.9,1032.9 L906.9,1032.9 L907.9,1032.9 L908.9,1032.9 L909.9,1032.9 L910.9,1032.9 L911.9,1032.9 L912.9,1032.8 L913.9,1032.8 L914.9,1032.8 L915.9,1032.8 L916.9,1032.8 L917.9,1032.8 L918.9,1032.8 L919.9,1032.8 L920.9,1032.7 L921.9,1032.7 L922.9,1032.7 L923.9,1032.7 L924.9,1032.7 L925.9,1032.7 L926.9,1032.7 L927.9,1032.7 L928.9,1032.6 L929.9,1032.6 L930.9,1032.6 L931.9,1032.6 L932.9,1032.6 L933.9,1032.6 L934.9,1032.5 L935.9,1032.5 L936.9,1032.5 L937.9,1032.5 L938.9,1032.5 L939.9,1032.5 L940.9,1032.4 L941.9,1032.4 L942.9,1032.4 L943.9,1032.4 L944.9,1032.4 L945.9,1032.3 L946.9,1032.3 L947.9,1032.3 L948.9,1032.3 L949.9,1032.3 L950.9,1032.2 L951.9,1032.2 L952.9,1032.2 L953.9,1032.1 L954.9,1032.1 L955.9,1032.1 L956.9,1032.0 L957.9,1032.0 L958.9,1031.9 L959.9,1031.9 L960.9,1031.8 L961.9,1031.8 L962.9,1031.7 L963.9,1031.6 L964.9,1031.5 L965.9,1031.4 L966.9,1031.3 L967.9,1031.2 L968.9,1031.1 L969.9,1030.9 L970.9,1030.8 L971.9,1030.6 L972.9,1030.4 L973.9,1030.2 L974.9,1029.9 L975.9,1029.7 L976.9,1029.4 L977.9,1029.0 L978.9,1028.7 L979.9,1028.3 L980.9,1027.8 L981.9,1027.4 L982.9,1026.8 L983.9,1026.3 L984.9,1025.6 L985.9,1025.0 L986.9,1024.2 L987.9,1023.5 L988.9,1022.6 L989.9,1021.7 L990.9,1020.7 L991.9,1019.7 L992.9,1018.6 L993.9,1017.4 L994.9,1016.2 L995.9,1014.9 L996.9,1013.5 L997.9,1012.1 L998.9,1010.6 L999.9,1009.1 L1000.9,1007.5 L1001.9,1005.8 L1002.9,1004.1 L1003.9,1002.3 L1004.9,1000.5 L1005.9,998.7 L1006.9,996.8 L1007.9,995.0 L1008.9,993.1 L1009.9,991.2 L1010.9,989.3 L1011.9,987.4 L1012.9,985.5 L1013.9,983.7 L1014.9,981.9 L1015.9,980.1 L1016.9,978.4 L1017.9,976.7 L1018.9,975.1 L1019.9,973.6 L1020.9,972.1 L1021.9,970.7 L1022.9,969.4 L1023.9,968.2 L1024.9,967.1 L1025.9,966.1 L1026.9,965.1 L1027.9,964.3 L1028.9,963.5 L1029.9,962.8 L1030.9,962.2 L1031.9,961.6 L1032.9,961.1 L1033.9,960.7 L1034.9,960.3 L1035.9,959.9 L1036.9,959.6 L1037.9,959.3 L1038.9,959.0 L1039.9,958.7 L1040.9,958.3 L1041.9,958.0 L1042.9,957.5 L1043.9,957.1 L1044.9,956.5 L1045.9,955.9 L1046.9,955.1 L1047.9,954.3 L1048.9,953.3 L1049.9,952.2 L1050.9,951.0 L1051.9,949.6 L1052.9,948.1 L1053.9,946.3 L1054.9,944.5 L1055.9,942.4 L1056.9,940.2 L1057.9,937.8 L1058.9,935.2 L1059.9,932.4 L1060.9,929.4 L1061.9,926.2 L1062.9,922.9 L1063.9,919.3 L1064.9,915.6 L1065.9,911.7 L1066.9,907.7 L1067.9,903.4 L1068.9,899.0 L1069.9,894.5 L1070.9,889.8 L1071.9,885.0 L1072.9,880.1 L1073.9,875.0 L1074.9,869.9 L1075.9,864.6 L1076.9,859.3 L1077.9,853.9 L1078.9,848.5 L1079.9,843.0 L1080.9,837.4 L1081.9,831.9 L1082.9,826.3 L1083.9,820.8 L1084.9,815.3 L1085.9,809.8 L1086.9,804.4 L1087.9,799.1 L1088.9,793.8 L1089.9,788.7 L1090.9,783.6 L1091.9,778.7 L1092.9,774.0 L1093.9,769.3 L1094.9,764.9 L1095.9,760.7 L1096.9,756.6 L1097.9,752.8 L1098.9,749.1 L1099.9,745.8 L1100.9,742.6 L1101.9,739.8 L1102.9,737.2 L1103.9,734.9 L1104.9,732.9 L1105.9,731.1 L1106.9,729.7 L1107.9,728.6 L1108.9,727.8 L1109.9,727.3 L1110.9,727.2 L1111.9,727.3 L1112.9,727.7 L1113.9,728.4 L1114.9,729.4 L1115.9,730.6 L1116.9,732.1 L1117.9,733.8 L1118.9,735.8 L1119.9,738.1 L1120.9,740.6 L1121.9,743.3 L1122.9,746.3 L1123.9,749.4 L1124.9,752.8 L1125.9,756.4 L1126.9,760.1 L1127.9,764.0 L1128.9,768.1 L1129.9,772.4 L1130.9,776.8 L1131.9,781.3 L1132.9,786.0 L1133.9,790.8 L1134.9,795.6 L1135.9,800.6 L1136.9,805.7 L1137.9,810.8 L1138.9,816.0 L1139.9,821.2 L1140.9,826.5 L1141.9,831.7 L1142.9,837.1 L1143.9,842.4 L1144.9,847.7 L1145.9,853.0 L1146.9,858.3 L1147.9,863.6 L1148.9,868.9 L1149.9,874.1 L1150.9,879.2 L1151.9,884.3 L1152.9,889.4 L1153.9,894.4 L1154.9,899.3 L1155.9,904.1 L1156.9,908.8 L1157.9,913.5 L1158.9,918.1 L1159.9,922.6 L1160.9,926.9 L1161.9,931.2 L1162.9,935.4 L1163.9,939.5 L1164.9,943.4 L1165.9,947.3 L1166.9,951.0 L1167.9,954.7 L1168.9,958.2 L1169.9,961.6 L1170.9,964.9 L1171.9,968.1 L1172.9,971.2 L1173.9,974.2 L1174.9,977.0 L1175.9,979.8 L1176.9,982.4 L1177.9,985.0 L1178.9,987.4 L1179.9,989.8 L1180.9,992.0 L1181.9,994.1 L1182.9,996.2 L1183.9,998.1 L1184.9,1000.0 L1185.9,1001.8 L1186.9,1003.5 L1187.9,1005.1 L1188.9,1006.6 L1189.9,1008.1 L1190.9,1009.5 L1191.9,1010.8 L1192.9,1012.0 L1193.9,1013.2 L1194.9,1014.3 L1195.9,1015.4 L1196.9,1016.4 L1197.9,1017.3 L1198.9,1018.2 L1199.9,1019.0 L1200.9,1019.8 L1201.9,1020.6 L1202.9,1021.2 L1203.9,1021.9 L1204.9,1022.5 L1205.9,1023.1 L1206.9,1023.6 L1207.9,1024.1 L1208.9,1024.6 L1209.9,1025.1 L1210.9,1025.5 L1211.9,1025.9 L1212.9,1026.3 L1213.9,1026.6 L1214.9,1026.9 L1215.9,1027.2 L1216.9,1027.5 L1217.9,1027.8 L1218.9,1028.0 L1219.9,1028.2 L1220.9,1028.5 L1221.9,1028.7 L1222.9,1028.9 L1223.9,1029.0 L1224.9,1029.2 L1225.9,1029.4 L1226.9,1029.5 L1227.9,1029.6 L1228.9,1029.8 L1229.9,1029.9 L1230.9,1030.0 L1231.9,1030.1 L1232.9,1030.2 L1233.9,1030.3 L1234.9,1030.4 L1235.9,1030.5 L1236.9,1030.6 L1237.9,1030.6 L1238.9,1030.7 L1239.9,1030.8 L1240.9,1030.8 L1241.9,1030.9 L1242.9,1031.0 L1243.9,1031.0 L1244.9,1031.1 L1245.9,1031.1 L1246.9,1031.2 L1247.9,1031.2 L1248.9,1031.3 L1249.9,1031.3 L1250.9,1031.4 L1251.9,1031.4 L1252.9,1031.4 L1253.9,1031.5 L1254.9,1031.5 L1255.9,1031.5 L1256.9,1031.6 L1257.9,1031.6 L1258.9,1031.7 L1259.9,1031.7 L1260.9,1031.7 L1261.9,1031.7 L1262.9,1031.8 L1263.9,1031.8 L1264.9,1031.8 L1265.9,1031.9 L1266.9,1031.9 L1267.9,1031.9 L1268.9,1031.9 L1269.9,1032.0 L1270.9,1032.0 L1271.9,1032.0 L1272.9,1032.0 L1273.9,1032.1 L1274.9,1032.1 L1275.9,1032.1 L1276.9,1032.1 L1277.9,1032.1 L1278.9,1032.2 L1279.9,1032.2 L1280.9,1032.2 L1281.9,1032.2 L1282.9,1032.2 L1283.9,1032.3 L1284.9,1032.3 L1285.9,1032.3 L1286.9,1032.3 L1287.9,1032.3 L1288.9,1032.4 L1289.9,1032.4 L1290.9,1032.3 L1291.9,1032.3 L1292.9,1032.3 L1293.9,1032.2 L1294.9,1032.2 L1295.9,1032.1 L1296.9,1032.1 L1297.9,1032.0 L1298.9,1032.0 L1299.9,1032.0 L1300.9,1031.9 L1301.9,1031.9 L1302.9,1031.8 L1303.9,1031.8 L1304.9,1031.7 L1305.9,1031.7 L1306.9,1031.6 L1307.9,1031.6 L1308.9,1031.6 L1309.9,1031.5 L1310.9,1031.5 L1311.9,1031.4 L1312.9,1031.4 L1313.9,1031.3 L1314.9,1031.3 L1315.9,1031.2 L1316.9,1031.2 L1317.9,1031.1 L1318.9,1031.1 L1319.9,1031.0 L1320.9,1031.0 L1321.9,1031.0 L1322.9,1030.9 L1323.9,1030.9 L1324.9,1030.8 L1325.9,1030.8 L1326.9,1030.7 L1327.9,1030.7 L1328.9,1030.6 L1329.9,1030.6 L1330.9,1030.5 L1331.9,1030.5 L1332.9,1030.4 L1333.9,1030.4 L1334.9,1030.3 L1335.9,1030.3 L1336.9,1030.2 L1337.9,1030.2 L1338.9,1030.1 L1339.9,1030.1 L1340.9,1030.0 L1341.9,1030.0 L1342.9,1029.9 L1343.9,1029.9 L1344.9,1029.8 L1345.9,1029.8 L1346.9,1029.7 L1347.9,1029.7 L1348.9,1029.6 L1349.9,1029.6 L1350.9,1029.5 L1351.9,1029.5 L1352.9,1029.4 L1353.9,1029.4 L1354.9,1029.3 L1355.9,1029.3 L1356.9,1029.2 L1357.9,1029.2 L1358.9,1029.1 L1359.9,1029.1 L1360.9,1029.0 L1361.9,1029.0 L1362.9,1028.9 L1363.9,1028.8 L1364.9,1028.8 L1365.9,1028.7 L1366.9,1028.7 L1367.9,1028.6 L1368.9,1028.6 L1369.9,1028.5 L1370.9,1028.5 L1371.9,1028.4 L1372.9,1028.4 L1373.9,1028.3 L1374.9,1028.3 L1375.9,1028.2 L1376.9,1028.2" fill="none" stroke="#e6121b" stroke-width="2.8" stroke-linejoin="round" stroke-linecap="round" />
<path d="M793.4,1034 L1290,1034 L1378.8,1028.8" fill="none" stroke="#e6121b" stroke-width="2.7"/>
<text x="1317.5" y="658.6" font-size="22.5" text-anchor="start" fill="#1e1e1e" word-spacing="4.5">N 1s</text>
<text x="1173.5" y="837.3" font-size="23.3" text-anchor="start" fill="#1e1e1e" >399.4 eV</text>
<text x="1161.5" y="868.7" font-size="24.2" text-anchor="start" fill="#1e1e1e" >R<tspan font-size="15.5" dy="6">2</tspan><tspan dy="-6">NH,</tspan><tspan dx="1">RNH</tspan><tspan font-size="15.5" dy="6">2</tspan></text>
<text x="948.8" y="910.2" font-size="23.3" text-anchor="start" fill="#1e1e1e" >401.2 eV</text>
<text x="960" y="939" font-size="24.2" text-anchor="start" fill="#1e1e1e" >R<tspan font-size="15.5" dy="6">3</tspan><tspan dy="-6">N</tspan></text>
<line x1="1143.2" y1="957.1" x2="1191.2" y2="894.5" stroke="#000" stroke-width="2.8" stroke-linecap="round"/>
<polygon points="1197.0,887.0 1193.4,900.0 1190.3,895.7 1185.4,893.9" fill="#000" stroke="#000" stroke-width="0.8" stroke-linejoin="round"/>
<line x1="1022.3" y1="1005.8" x2="995.8" y2="955.8" stroke="#000" stroke-width="2.8" stroke-linecap="round"/>
<polygon points="991.3,947.4 1001.6,956.1 996.5,957.1 992.7,960.8" fill="#000" stroke="#000" stroke-width="0.8" stroke-linejoin="round"/>
<rect x="793.4" y="625" width="585.4" height="462.9" fill="none" stroke="#111" stroke-width="3"/>
</svg>
</body></html>
